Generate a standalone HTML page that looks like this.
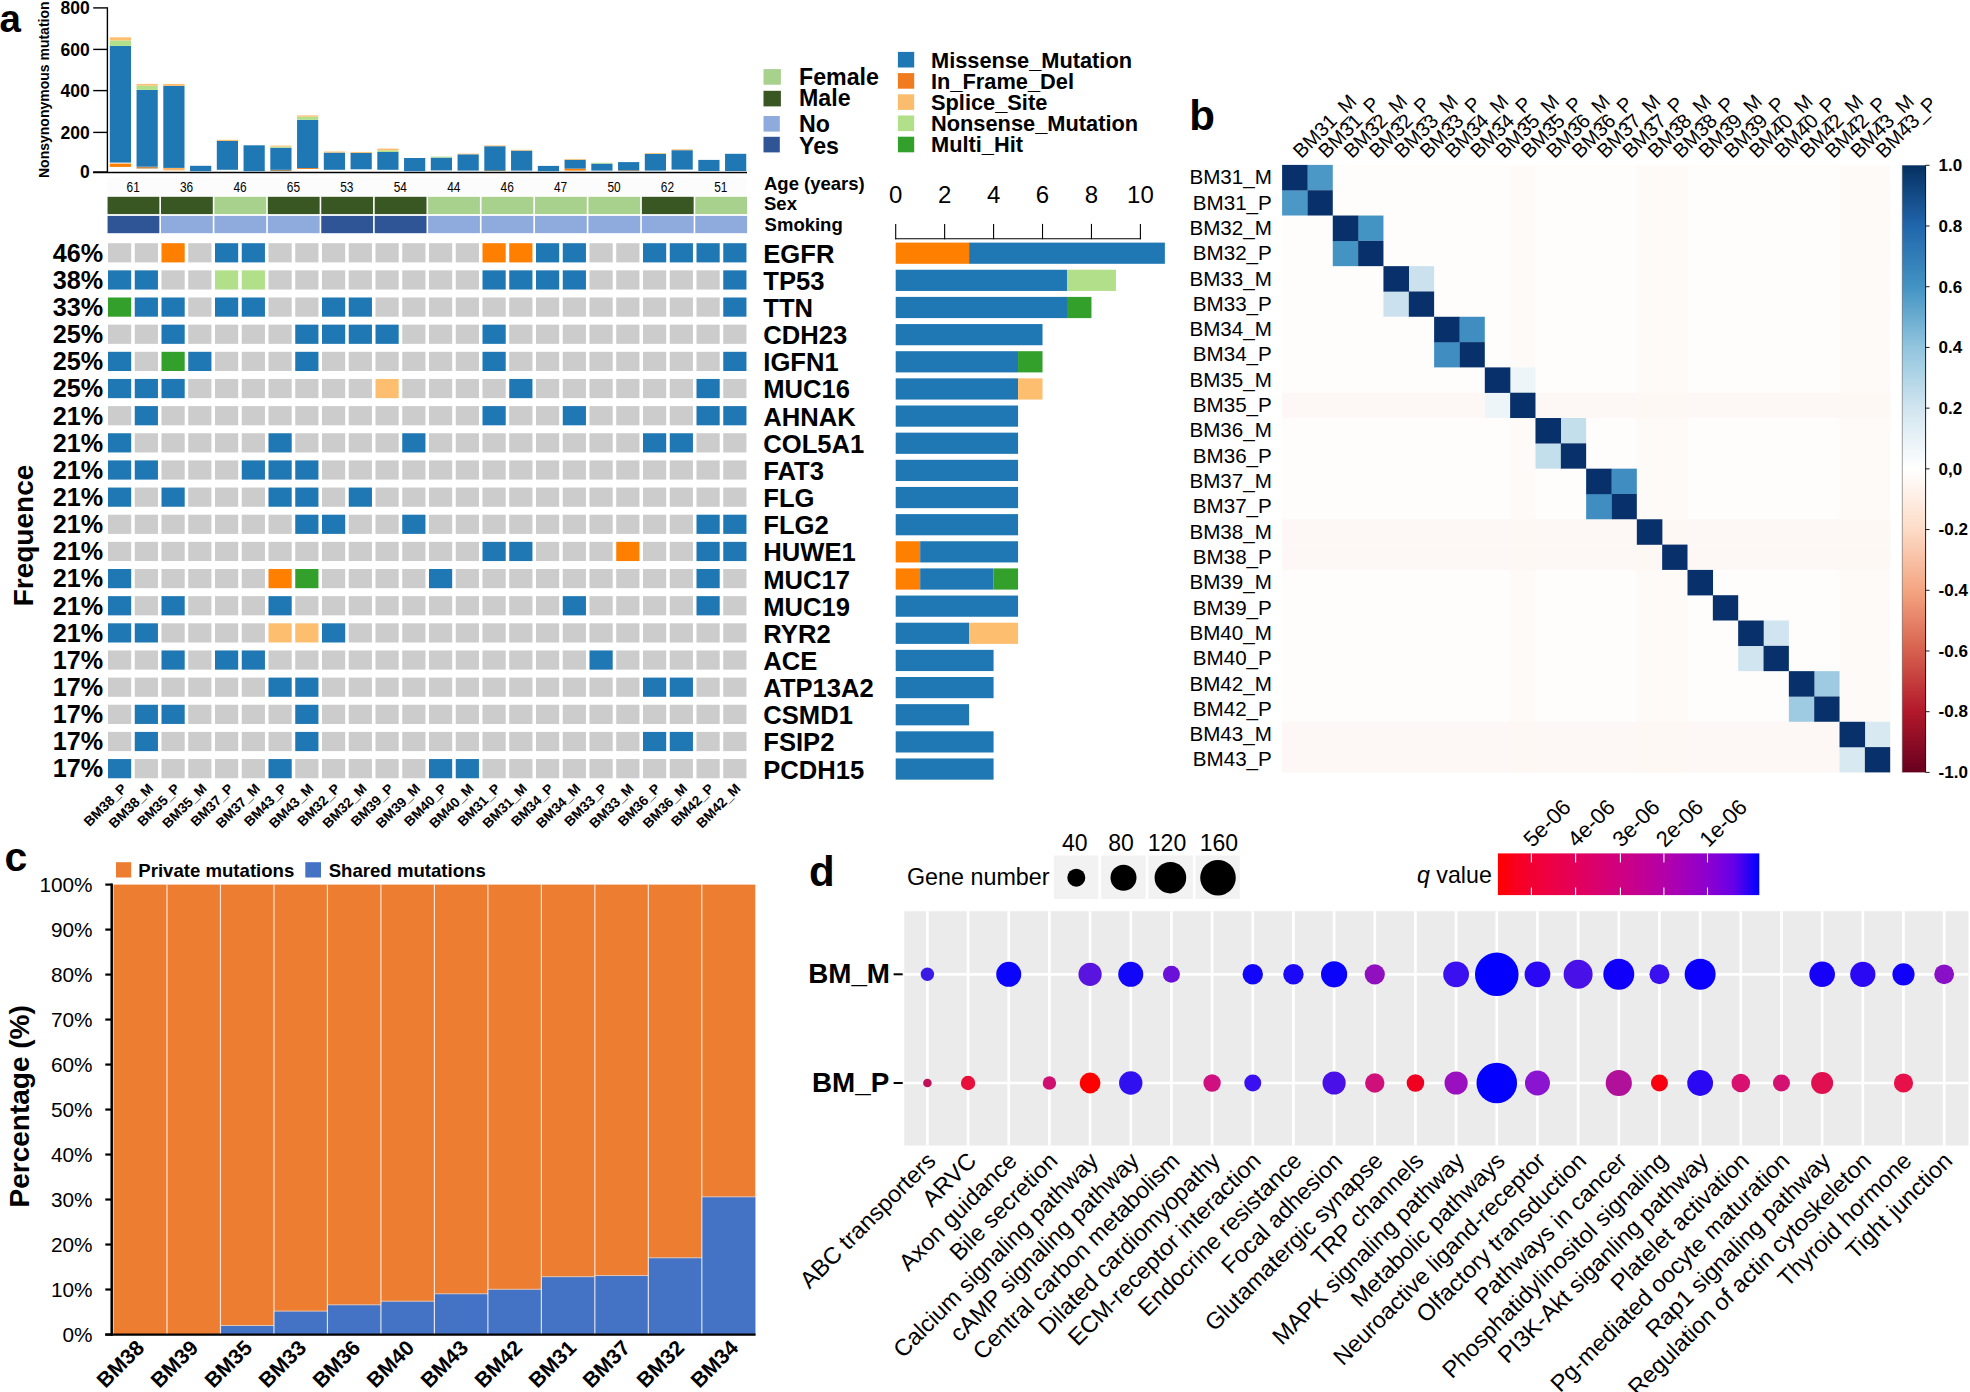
<!DOCTYPE html>
<html lang="en"><head><meta charset="utf-8"><title>Figure</title>
<style>html,body{margin:0;padding:0;background:#fff}svg{display:block}text{font-family:"Liberation Sans",Arial,Helvetica,sans-serif}</style></head><body>
<svg width="1970" height="1392" viewBox="0 0 1970 1392">
<rect width="1970" height="1392" fill="#fff"/>
<g id="panel-a">
<text x="-0.60" y="32.00" font-size="38.5" font-weight="bold" text-anchor="start" fill="#000" >a</text>
<line x1="107.40" y1="7.30" x2="107.40" y2="172.70" stroke="#000" stroke-width="1.4" />
<line x1="93.00" y1="172.50" x2="747.00" y2="172.50" stroke="#000" stroke-width="1.5" />
<line x1="93.20" y1="7.90" x2="107.40" y2="7.90" stroke="#000" stroke-width="1.4" />
<text x="89.70" y="14.00" font-size="17.5" font-weight="bold" text-anchor="end" fill="#000" >800</text>
<line x1="93.20" y1="49.40" x2="107.40" y2="49.40" stroke="#000" stroke-width="1.4" />
<text x="89.70" y="55.50" font-size="17.5" font-weight="bold" text-anchor="end" fill="#000" >600</text>
<line x1="93.20" y1="90.60" x2="107.40" y2="90.60" stroke="#000" stroke-width="1.4" />
<text x="89.70" y="96.70" font-size="17.5" font-weight="bold" text-anchor="end" fill="#000" >400</text>
<line x1="93.20" y1="132.40" x2="107.40" y2="132.40" stroke="#000" stroke-width="1.4" />
<text x="89.70" y="138.50" font-size="17.5" font-weight="bold" text-anchor="end" fill="#000" >200</text>
<line x1="93.20" y1="172.00" x2="107.40" y2="172.00" stroke="#000" stroke-width="1.4" />
<text x="89.70" y="178.10" font-size="17.5" font-weight="bold" text-anchor="end" fill="#000" >0</text>
<text x="49.30" y="178.00" font-size="14" font-weight="bold" text-anchor="start" fill="#000" transform="rotate(-90 49.30 178.00)" >Nonsynonymous mutation</text>
<rect x="109.80" y="163.60" width="21.20" height="3.30" fill="#ff7f00" />
<rect x="109.80" y="45.90" width="21.20" height="116.70" fill="#1f78b4" />
<rect x="109.80" y="40.40" width="21.20" height="5.50" fill="#b2df8a" />
<rect x="109.80" y="37.30" width="21.20" height="3.10" fill="#fdbf6f" />
<rect x="136.55" y="166.70" width="21.20" height="1.90" fill="#c98a4a" />
<rect x="136.55" y="89.90" width="21.20" height="76.80" fill="#1f78b4" />
<rect x="136.55" y="85.60" width="21.20" height="4.30" fill="#b2df8a" />
<rect x="136.55" y="83.90" width="21.20" height="1.70" fill="#fdbf6f" />
<rect x="163.30" y="168.40" width="21.20" height="1.20" fill="#ff7f00" />
<rect x="163.30" y="169.60" width="21.20" height="0.80" fill="#fdbf6f" />
<rect x="163.30" y="85.90" width="21.20" height="82.00" fill="#1f78b4" />
<rect x="163.30" y="83.90" width="21.20" height="2.00" fill="#fdbf6f" />
<rect x="190.05" y="165.80" width="21.20" height="5.40" fill="#1f78b4" />
<rect x="216.80" y="141.00" width="21.20" height="28.80" fill="#1f78b4" />
<rect x="216.80" y="139.80" width="21.20" height="1.20" fill="#fdbf6f" />
<rect x="243.55" y="145.30" width="21.20" height="25.90" fill="#1f78b4" />
<rect x="270.30" y="169.80" width="21.20" height="1.20" fill="#a98a5a" />
<rect x="270.30" y="147.70" width="21.20" height="22.10" fill="#1f78b4" />
<rect x="270.30" y="146.60" width="21.20" height="1.10" fill="#b2df8a" />
<rect x="270.30" y="145.60" width="21.20" height="1.00" fill="#fdbf6f" />
<rect x="297.05" y="168.10" width="21.20" height="0.90" fill="#ff7f00" />
<rect x="297.05" y="119.80" width="21.20" height="48.30" fill="#1f78b4" />
<rect x="297.05" y="116.70" width="21.20" height="3.10" fill="#b2df8a" />
<rect x="297.05" y="115.40" width="21.20" height="1.30" fill="#fdbf6f" />
<rect x="323.80" y="152.60" width="21.20" height="17.20" fill="#1f78b4" />
<rect x="323.80" y="151.50" width="21.20" height="1.10" fill="#fdbf6f" />
<rect x="350.55" y="152.90" width="21.20" height="16.40" fill="#1f78b4" />
<rect x="350.55" y="151.90" width="21.20" height="1.00" fill="#fdbf6f" />
<rect x="377.30" y="152.00" width="21.20" height="17.80" fill="#1f78b4" />
<rect x="377.30" y="150.30" width="21.20" height="1.70" fill="#b2df8a" />
<rect x="377.30" y="148.60" width="21.20" height="1.70" fill="#fdbf6f" />
<rect x="404.05" y="158.00" width="21.20" height="13.20" fill="#1f78b4" />
<rect x="430.80" y="157.60" width="21.20" height="12.80" fill="#1f78b4" />
<rect x="430.80" y="156.60" width="21.20" height="1.00" fill="#b2df8a" />
<rect x="457.55" y="154.30" width="21.20" height="16.30" fill="#1f78b4" />
<rect x="457.55" y="153.60" width="21.20" height="0.70" fill="#fdbf6f" />
<rect x="484.30" y="170.00" width="21.20" height="1.00" fill="#8a8a6a" />
<rect x="484.30" y="146.20" width="21.20" height="24.00" fill="#1f78b4" />
<rect x="484.30" y="145.40" width="21.20" height="0.80" fill="#fdbf6f" />
<rect x="511.05" y="150.60" width="21.20" height="20.00" fill="#1f78b4" />
<rect x="511.05" y="149.80" width="21.20" height="0.80" fill="#fdbf6f" />
<rect x="537.80" y="165.90" width="21.20" height="5.30" fill="#1f78b4" />
<rect x="564.55" y="168.60" width="21.20" height="2.00" fill="#ff7f00" />
<rect x="564.55" y="159.80" width="21.20" height="8.80" fill="#1f78b4" />
<rect x="564.55" y="159.00" width="21.20" height="0.80" fill="#fdbf6f" />
<rect x="591.30" y="163.60" width="21.20" height="7.00" fill="#1f78b4" />
<rect x="591.30" y="162.80" width="21.20" height="0.80" fill="#b2df8a" />
<rect x="618.05" y="170.00" width="21.20" height="0.80" fill="#a98a5a" />
<rect x="618.05" y="162.10" width="21.20" height="8.10" fill="#1f78b4" />
<rect x="644.80" y="153.80" width="21.20" height="16.80" fill="#1f78b4" />
<rect x="644.80" y="153.00" width="21.20" height="0.80" fill="#fdbf6f" />
<rect x="671.55" y="150.20" width="21.20" height="19.40" fill="#1f78b4" />
<rect x="671.55" y="149.30" width="21.20" height="0.90" fill="#fdbf6f" />
<rect x="698.30" y="159.90" width="21.20" height="11.10" fill="#1f78b4" />
<rect x="725.05" y="153.80" width="21.20" height="17.20" fill="#1f78b4" />
<rect x="107.20" y="177.40" width="639.50" height="18.20" fill="#fcfcfc" />
<text x="133.15" y="192.40" font-size="15" text-anchor="middle" fill="#000" textLength="13.2" lengthAdjust="spacingAndGlyphs">61</text>
<rect x="107.55" y="196.80" width="51.80" height="17.30" fill="#385723" />
<rect x="107.55" y="215.90" width="51.80" height="17.30" fill="#2f5597" />
<text x="186.58" y="192.40" font-size="15" text-anchor="middle" fill="#000" textLength="13.2" lengthAdjust="spacingAndGlyphs">36</text>
<rect x="160.98" y="196.80" width="51.80" height="17.30" fill="#385723" />
<rect x="160.98" y="215.90" width="51.80" height="17.30" fill="#8faadc" />
<text x="240.01" y="192.40" font-size="15" text-anchor="middle" fill="#000" textLength="13.2" lengthAdjust="spacingAndGlyphs">46</text>
<rect x="214.41" y="196.80" width="51.80" height="17.30" fill="#a9d18e" />
<rect x="214.41" y="215.90" width="51.80" height="17.30" fill="#8faadc" />
<text x="293.44" y="192.40" font-size="15" text-anchor="middle" fill="#000" textLength="13.2" lengthAdjust="spacingAndGlyphs">65</text>
<rect x="267.84" y="196.80" width="51.80" height="17.30" fill="#385723" />
<rect x="267.84" y="215.90" width="51.80" height="17.30" fill="#8faadc" />
<text x="346.87" y="192.40" font-size="15" text-anchor="middle" fill="#000" textLength="13.2" lengthAdjust="spacingAndGlyphs">53</text>
<rect x="321.27" y="196.80" width="51.80" height="17.30" fill="#385723" />
<rect x="321.27" y="215.90" width="51.80" height="17.30" fill="#2f5597" />
<text x="400.30" y="192.40" font-size="15" text-anchor="middle" fill="#000" textLength="13.2" lengthAdjust="spacingAndGlyphs">54</text>
<rect x="374.70" y="196.80" width="51.80" height="17.30" fill="#385723" />
<rect x="374.70" y="215.90" width="51.80" height="17.30" fill="#2f5597" />
<text x="453.73" y="192.40" font-size="15" text-anchor="middle" fill="#000" textLength="13.2" lengthAdjust="spacingAndGlyphs">44</text>
<rect x="428.13" y="196.80" width="51.80" height="17.30" fill="#a9d18e" />
<rect x="428.13" y="215.90" width="51.80" height="17.30" fill="#8faadc" />
<text x="507.16" y="192.40" font-size="15" text-anchor="middle" fill="#000" textLength="13.2" lengthAdjust="spacingAndGlyphs">46</text>
<rect x="481.56" y="196.80" width="51.80" height="17.30" fill="#a9d18e" />
<rect x="481.56" y="215.90" width="51.80" height="17.30" fill="#8faadc" />
<text x="560.59" y="192.40" font-size="15" text-anchor="middle" fill="#000" textLength="13.2" lengthAdjust="spacingAndGlyphs">47</text>
<rect x="534.99" y="196.80" width="51.80" height="17.30" fill="#a9d18e" />
<rect x="534.99" y="215.90" width="51.80" height="17.30" fill="#8faadc" />
<text x="614.02" y="192.40" font-size="15" text-anchor="middle" fill="#000" textLength="13.2" lengthAdjust="spacingAndGlyphs">50</text>
<rect x="588.42" y="196.80" width="51.80" height="17.30" fill="#a9d18e" />
<rect x="588.42" y="215.90" width="51.80" height="17.30" fill="#8faadc" />
<text x="667.45" y="192.40" font-size="15" text-anchor="middle" fill="#000" textLength="13.2" lengthAdjust="spacingAndGlyphs">62</text>
<rect x="641.85" y="196.80" width="51.80" height="17.30" fill="#385723" />
<rect x="641.85" y="215.90" width="51.80" height="17.30" fill="#8faadc" />
<text x="720.88" y="192.40" font-size="15" text-anchor="middle" fill="#000" textLength="13.2" lengthAdjust="spacingAndGlyphs">51</text>
<rect x="695.28" y="196.80" width="51.80" height="17.30" fill="#a9d18e" />
<rect x="695.28" y="215.90" width="51.80" height="17.30" fill="#8faadc" />
<rect x="108.00" y="243.20" width="23.20" height="19.20" fill="#cccccc" />
<rect x="134.75" y="243.20" width="23.20" height="19.20" fill="#cccccc" />
<rect x="161.50" y="243.20" width="23.20" height="19.20" fill="#ff7f00" />
<rect x="188.25" y="243.20" width="23.20" height="19.20" fill="#cccccc" />
<rect x="215.00" y="243.20" width="23.20" height="19.20" fill="#1f78b4" />
<rect x="241.75" y="243.20" width="23.20" height="19.20" fill="#1f78b4" />
<rect x="268.50" y="243.20" width="23.20" height="19.20" fill="#cccccc" />
<rect x="295.25" y="243.20" width="23.20" height="19.20" fill="#cccccc" />
<rect x="322.00" y="243.20" width="23.20" height="19.20" fill="#cccccc" />
<rect x="348.75" y="243.20" width="23.20" height="19.20" fill="#cccccc" />
<rect x="375.50" y="243.20" width="23.20" height="19.20" fill="#cccccc" />
<rect x="402.25" y="243.20" width="23.20" height="19.20" fill="#cccccc" />
<rect x="429.00" y="243.20" width="23.20" height="19.20" fill="#cccccc" />
<rect x="455.75" y="243.20" width="23.20" height="19.20" fill="#cccccc" />
<rect x="482.50" y="243.20" width="23.20" height="19.20" fill="#ff7f00" />
<rect x="509.25" y="243.20" width="23.20" height="19.20" fill="#ff7f00" />
<rect x="536.00" y="243.20" width="23.20" height="19.20" fill="#1f78b4" />
<rect x="562.75" y="243.20" width="23.20" height="19.20" fill="#1f78b4" />
<rect x="589.50" y="243.20" width="23.20" height="19.20" fill="#cccccc" />
<rect x="616.25" y="243.20" width="23.20" height="19.20" fill="#cccccc" />
<rect x="643.00" y="243.20" width="23.20" height="19.20" fill="#1f78b4" />
<rect x="669.75" y="243.20" width="23.20" height="19.20" fill="#1f78b4" />
<rect x="696.50" y="243.20" width="23.20" height="19.20" fill="#1f78b4" />
<rect x="723.25" y="243.20" width="23.20" height="19.20" fill="#1f78b4" />
<text x="103.20" y="261.60" font-size="25.2" font-weight="bold" text-anchor="end" fill="#000" >46%</text>
<text x="763.30" y="262.70" font-size="25.6" font-weight="bold" text-anchor="start" fill="#000" >EGFR</text>
<rect x="895.70" y="242.60" width="73.41" height="21.20" fill="#ff7f00" />
<rect x="969.11" y="242.60" width="195.76" height="21.20" fill="#1f78b4" />
<rect x="108.00" y="270.35" width="23.20" height="19.20" fill="#1f78b4" />
<rect x="134.75" y="270.35" width="23.20" height="19.20" fill="#1f78b4" />
<rect x="161.50" y="270.35" width="23.20" height="19.20" fill="#cccccc" />
<rect x="188.25" y="270.35" width="23.20" height="19.20" fill="#cccccc" />
<rect x="215.00" y="270.35" width="23.20" height="19.20" fill="#b2df8a" />
<rect x="241.75" y="270.35" width="23.20" height="19.20" fill="#b2df8a" />
<rect x="268.50" y="270.35" width="23.20" height="19.20" fill="#cccccc" />
<rect x="295.25" y="270.35" width="23.20" height="19.20" fill="#cccccc" />
<rect x="322.00" y="270.35" width="23.20" height="19.20" fill="#cccccc" />
<rect x="348.75" y="270.35" width="23.20" height="19.20" fill="#cccccc" />
<rect x="375.50" y="270.35" width="23.20" height="19.20" fill="#cccccc" />
<rect x="402.25" y="270.35" width="23.20" height="19.20" fill="#cccccc" />
<rect x="429.00" y="270.35" width="23.20" height="19.20" fill="#cccccc" />
<rect x="455.75" y="270.35" width="23.20" height="19.20" fill="#cccccc" />
<rect x="482.50" y="270.35" width="23.20" height="19.20" fill="#1f78b4" />
<rect x="509.25" y="270.35" width="23.20" height="19.20" fill="#1f78b4" />
<rect x="536.00" y="270.35" width="23.20" height="19.20" fill="#1f78b4" />
<rect x="562.75" y="270.35" width="23.20" height="19.20" fill="#1f78b4" />
<rect x="589.50" y="270.35" width="23.20" height="19.20" fill="#cccccc" />
<rect x="616.25" y="270.35" width="23.20" height="19.20" fill="#cccccc" />
<rect x="643.00" y="270.35" width="23.20" height="19.20" fill="#cccccc" />
<rect x="669.75" y="270.35" width="23.20" height="19.20" fill="#cccccc" />
<rect x="696.50" y="270.35" width="23.20" height="19.20" fill="#cccccc" />
<rect x="723.25" y="270.35" width="23.20" height="19.20" fill="#1f78b4" />
<text x="103.20" y="288.75" font-size="25.2" font-weight="bold" text-anchor="end" fill="#000" >38%</text>
<text x="763.30" y="289.85" font-size="25.6" font-weight="bold" text-anchor="start" fill="#000" >TP53</text>
<rect x="895.70" y="269.75" width="171.29" height="21.20" fill="#1f78b4" />
<rect x="1066.99" y="269.75" width="48.94" height="21.20" fill="#b2df8a" />
<rect x="108.00" y="297.50" width="23.20" height="19.20" fill="#33a02c" />
<rect x="134.75" y="297.50" width="23.20" height="19.20" fill="#1f78b4" />
<rect x="161.50" y="297.50" width="23.20" height="19.20" fill="#1f78b4" />
<rect x="188.25" y="297.50" width="23.20" height="19.20" fill="#cccccc" />
<rect x="215.00" y="297.50" width="23.20" height="19.20" fill="#1f78b4" />
<rect x="241.75" y="297.50" width="23.20" height="19.20" fill="#1f78b4" />
<rect x="268.50" y="297.50" width="23.20" height="19.20" fill="#cccccc" />
<rect x="295.25" y="297.50" width="23.20" height="19.20" fill="#cccccc" />
<rect x="322.00" y="297.50" width="23.20" height="19.20" fill="#1f78b4" />
<rect x="348.75" y="297.50" width="23.20" height="19.20" fill="#1f78b4" />
<rect x="375.50" y="297.50" width="23.20" height="19.20" fill="#cccccc" />
<rect x="402.25" y="297.50" width="23.20" height="19.20" fill="#cccccc" />
<rect x="429.00" y="297.50" width="23.20" height="19.20" fill="#cccccc" />
<rect x="455.75" y="297.50" width="23.20" height="19.20" fill="#cccccc" />
<rect x="482.50" y="297.50" width="23.20" height="19.20" fill="#cccccc" />
<rect x="509.25" y="297.50" width="23.20" height="19.20" fill="#cccccc" />
<rect x="536.00" y="297.50" width="23.20" height="19.20" fill="#cccccc" />
<rect x="562.75" y="297.50" width="23.20" height="19.20" fill="#cccccc" />
<rect x="589.50" y="297.50" width="23.20" height="19.20" fill="#cccccc" />
<rect x="616.25" y="297.50" width="23.20" height="19.20" fill="#cccccc" />
<rect x="643.00" y="297.50" width="23.20" height="19.20" fill="#cccccc" />
<rect x="669.75" y="297.50" width="23.20" height="19.20" fill="#cccccc" />
<rect x="696.50" y="297.50" width="23.20" height="19.20" fill="#cccccc" />
<rect x="723.25" y="297.50" width="23.20" height="19.20" fill="#1f78b4" />
<text x="103.20" y="315.90" font-size="25.2" font-weight="bold" text-anchor="end" fill="#000" >33%</text>
<text x="763.30" y="317.00" font-size="25.6" font-weight="bold" text-anchor="start" fill="#000" >TTN</text>
<rect x="895.70" y="296.90" width="171.29" height="21.20" fill="#1f78b4" />
<rect x="1066.99" y="296.90" width="24.47" height="21.20" fill="#33a02c" />
<rect x="108.00" y="324.65" width="23.20" height="19.20" fill="#cccccc" />
<rect x="134.75" y="324.65" width="23.20" height="19.20" fill="#cccccc" />
<rect x="161.50" y="324.65" width="23.20" height="19.20" fill="#1f78b4" />
<rect x="188.25" y="324.65" width="23.20" height="19.20" fill="#cccccc" />
<rect x="215.00" y="324.65" width="23.20" height="19.20" fill="#cccccc" />
<rect x="241.75" y="324.65" width="23.20" height="19.20" fill="#cccccc" />
<rect x="268.50" y="324.65" width="23.20" height="19.20" fill="#cccccc" />
<rect x="295.25" y="324.65" width="23.20" height="19.20" fill="#1f78b4" />
<rect x="322.00" y="324.65" width="23.20" height="19.20" fill="#1f78b4" />
<rect x="348.75" y="324.65" width="23.20" height="19.20" fill="#1f78b4" />
<rect x="375.50" y="324.65" width="23.20" height="19.20" fill="#1f78b4" />
<rect x="402.25" y="324.65" width="23.20" height="19.20" fill="#cccccc" />
<rect x="429.00" y="324.65" width="23.20" height="19.20" fill="#cccccc" />
<rect x="455.75" y="324.65" width="23.20" height="19.20" fill="#cccccc" />
<rect x="482.50" y="324.65" width="23.20" height="19.20" fill="#1f78b4" />
<rect x="509.25" y="324.65" width="23.20" height="19.20" fill="#cccccc" />
<rect x="536.00" y="324.65" width="23.20" height="19.20" fill="#cccccc" />
<rect x="562.75" y="324.65" width="23.20" height="19.20" fill="#cccccc" />
<rect x="589.50" y="324.65" width="23.20" height="19.20" fill="#cccccc" />
<rect x="616.25" y="324.65" width="23.20" height="19.20" fill="#cccccc" />
<rect x="643.00" y="324.65" width="23.20" height="19.20" fill="#cccccc" />
<rect x="669.75" y="324.65" width="23.20" height="19.20" fill="#cccccc" />
<rect x="696.50" y="324.65" width="23.20" height="19.20" fill="#cccccc" />
<rect x="723.25" y="324.65" width="23.20" height="19.20" fill="#cccccc" />
<text x="103.20" y="343.05" font-size="25.2" font-weight="bold" text-anchor="end" fill="#000" >25%</text>
<text x="763.30" y="344.15" font-size="25.6" font-weight="bold" text-anchor="start" fill="#000" >CDH23</text>
<rect x="895.70" y="324.05" width="146.82" height="21.20" fill="#1f78b4" />
<rect x="108.00" y="351.80" width="23.20" height="19.20" fill="#1f78b4" />
<rect x="134.75" y="351.80" width="23.20" height="19.20" fill="#cccccc" />
<rect x="161.50" y="351.80" width="23.20" height="19.20" fill="#33a02c" />
<rect x="188.25" y="351.80" width="23.20" height="19.20" fill="#1f78b4" />
<rect x="215.00" y="351.80" width="23.20" height="19.20" fill="#cccccc" />
<rect x="241.75" y="351.80" width="23.20" height="19.20" fill="#cccccc" />
<rect x="268.50" y="351.80" width="23.20" height="19.20" fill="#cccccc" />
<rect x="295.25" y="351.80" width="23.20" height="19.20" fill="#1f78b4" />
<rect x="322.00" y="351.80" width="23.20" height="19.20" fill="#cccccc" />
<rect x="348.75" y="351.80" width="23.20" height="19.20" fill="#cccccc" />
<rect x="375.50" y="351.80" width="23.20" height="19.20" fill="#cccccc" />
<rect x="402.25" y="351.80" width="23.20" height="19.20" fill="#cccccc" />
<rect x="429.00" y="351.80" width="23.20" height="19.20" fill="#cccccc" />
<rect x="455.75" y="351.80" width="23.20" height="19.20" fill="#cccccc" />
<rect x="482.50" y="351.80" width="23.20" height="19.20" fill="#1f78b4" />
<rect x="509.25" y="351.80" width="23.20" height="19.20" fill="#cccccc" />
<rect x="536.00" y="351.80" width="23.20" height="19.20" fill="#cccccc" />
<rect x="562.75" y="351.80" width="23.20" height="19.20" fill="#cccccc" />
<rect x="589.50" y="351.80" width="23.20" height="19.20" fill="#cccccc" />
<rect x="616.25" y="351.80" width="23.20" height="19.20" fill="#cccccc" />
<rect x="643.00" y="351.80" width="23.20" height="19.20" fill="#cccccc" />
<rect x="669.75" y="351.80" width="23.20" height="19.20" fill="#cccccc" />
<rect x="696.50" y="351.80" width="23.20" height="19.20" fill="#cccccc" />
<rect x="723.25" y="351.80" width="23.20" height="19.20" fill="#1f78b4" />
<text x="103.20" y="370.20" font-size="25.2" font-weight="bold" text-anchor="end" fill="#000" >25%</text>
<text x="763.30" y="371.30" font-size="25.6" font-weight="bold" text-anchor="start" fill="#000" >IGFN1</text>
<rect x="895.70" y="351.20" width="122.35" height="21.20" fill="#1f78b4" />
<rect x="1018.05" y="351.20" width="24.47" height="21.20" fill="#33a02c" />
<rect x="108.00" y="378.95" width="23.20" height="19.20" fill="#1f78b4" />
<rect x="134.75" y="378.95" width="23.20" height="19.20" fill="#1f78b4" />
<rect x="161.50" y="378.95" width="23.20" height="19.20" fill="#1f78b4" />
<rect x="188.25" y="378.95" width="23.20" height="19.20" fill="#cccccc" />
<rect x="215.00" y="378.95" width="23.20" height="19.20" fill="#cccccc" />
<rect x="241.75" y="378.95" width="23.20" height="19.20" fill="#cccccc" />
<rect x="268.50" y="378.95" width="23.20" height="19.20" fill="#cccccc" />
<rect x="295.25" y="378.95" width="23.20" height="19.20" fill="#cccccc" />
<rect x="322.00" y="378.95" width="23.20" height="19.20" fill="#cccccc" />
<rect x="348.75" y="378.95" width="23.20" height="19.20" fill="#cccccc" />
<rect x="375.50" y="378.95" width="23.20" height="19.20" fill="#fdbf6f" />
<rect x="402.25" y="378.95" width="23.20" height="19.20" fill="#cccccc" />
<rect x="429.00" y="378.95" width="23.20" height="19.20" fill="#cccccc" />
<rect x="455.75" y="378.95" width="23.20" height="19.20" fill="#cccccc" />
<rect x="482.50" y="378.95" width="23.20" height="19.20" fill="#cccccc" />
<rect x="509.25" y="378.95" width="23.20" height="19.20" fill="#1f78b4" />
<rect x="536.00" y="378.95" width="23.20" height="19.20" fill="#cccccc" />
<rect x="562.75" y="378.95" width="23.20" height="19.20" fill="#cccccc" />
<rect x="589.50" y="378.95" width="23.20" height="19.20" fill="#cccccc" />
<rect x="616.25" y="378.95" width="23.20" height="19.20" fill="#cccccc" />
<rect x="643.00" y="378.95" width="23.20" height="19.20" fill="#cccccc" />
<rect x="669.75" y="378.95" width="23.20" height="19.20" fill="#cccccc" />
<rect x="696.50" y="378.95" width="23.20" height="19.20" fill="#1f78b4" />
<rect x="723.25" y="378.95" width="23.20" height="19.20" fill="#cccccc" />
<text x="103.20" y="397.35" font-size="25.2" font-weight="bold" text-anchor="end" fill="#000" >25%</text>
<text x="763.30" y="398.45" font-size="25.6" font-weight="bold" text-anchor="start" fill="#000" >MUC16</text>
<rect x="895.70" y="378.35" width="122.35" height="21.20" fill="#1f78b4" />
<rect x="1018.05" y="378.35" width="24.47" height="21.20" fill="#fdbf6f" />
<rect x="108.00" y="406.10" width="23.20" height="19.20" fill="#cccccc" />
<rect x="134.75" y="406.10" width="23.20" height="19.20" fill="#1f78b4" />
<rect x="161.50" y="406.10" width="23.20" height="19.20" fill="#cccccc" />
<rect x="188.25" y="406.10" width="23.20" height="19.20" fill="#cccccc" />
<rect x="215.00" y="406.10" width="23.20" height="19.20" fill="#cccccc" />
<rect x="241.75" y="406.10" width="23.20" height="19.20" fill="#cccccc" />
<rect x="268.50" y="406.10" width="23.20" height="19.20" fill="#cccccc" />
<rect x="295.25" y="406.10" width="23.20" height="19.20" fill="#cccccc" />
<rect x="322.00" y="406.10" width="23.20" height="19.20" fill="#cccccc" />
<rect x="348.75" y="406.10" width="23.20" height="19.20" fill="#cccccc" />
<rect x="375.50" y="406.10" width="23.20" height="19.20" fill="#cccccc" />
<rect x="402.25" y="406.10" width="23.20" height="19.20" fill="#cccccc" />
<rect x="429.00" y="406.10" width="23.20" height="19.20" fill="#cccccc" />
<rect x="455.75" y="406.10" width="23.20" height="19.20" fill="#cccccc" />
<rect x="482.50" y="406.10" width="23.20" height="19.20" fill="#1f78b4" />
<rect x="509.25" y="406.10" width="23.20" height="19.20" fill="#cccccc" />
<rect x="536.00" y="406.10" width="23.20" height="19.20" fill="#cccccc" />
<rect x="562.75" y="406.10" width="23.20" height="19.20" fill="#1f78b4" />
<rect x="589.50" y="406.10" width="23.20" height="19.20" fill="#cccccc" />
<rect x="616.25" y="406.10" width="23.20" height="19.20" fill="#cccccc" />
<rect x="643.00" y="406.10" width="23.20" height="19.20" fill="#cccccc" />
<rect x="669.75" y="406.10" width="23.20" height="19.20" fill="#cccccc" />
<rect x="696.50" y="406.10" width="23.20" height="19.20" fill="#1f78b4" />
<rect x="723.25" y="406.10" width="23.20" height="19.20" fill="#1f78b4" />
<text x="103.20" y="424.50" font-size="25.2" font-weight="bold" text-anchor="end" fill="#000" >21%</text>
<text x="763.30" y="425.60" font-size="25.6" font-weight="bold" text-anchor="start" fill="#000" >AHNAK</text>
<rect x="895.70" y="405.50" width="122.35" height="21.20" fill="#1f78b4" />
<rect x="108.00" y="433.25" width="23.20" height="19.20" fill="#1f78b4" />
<rect x="134.75" y="433.25" width="23.20" height="19.20" fill="#cccccc" />
<rect x="161.50" y="433.25" width="23.20" height="19.20" fill="#cccccc" />
<rect x="188.25" y="433.25" width="23.20" height="19.20" fill="#cccccc" />
<rect x="215.00" y="433.25" width="23.20" height="19.20" fill="#cccccc" />
<rect x="241.75" y="433.25" width="23.20" height="19.20" fill="#cccccc" />
<rect x="268.50" y="433.25" width="23.20" height="19.20" fill="#1f78b4" />
<rect x="295.25" y="433.25" width="23.20" height="19.20" fill="#cccccc" />
<rect x="322.00" y="433.25" width="23.20" height="19.20" fill="#cccccc" />
<rect x="348.75" y="433.25" width="23.20" height="19.20" fill="#cccccc" />
<rect x="375.50" y="433.25" width="23.20" height="19.20" fill="#cccccc" />
<rect x="402.25" y="433.25" width="23.20" height="19.20" fill="#1f78b4" />
<rect x="429.00" y="433.25" width="23.20" height="19.20" fill="#cccccc" />
<rect x="455.75" y="433.25" width="23.20" height="19.20" fill="#cccccc" />
<rect x="482.50" y="433.25" width="23.20" height="19.20" fill="#cccccc" />
<rect x="509.25" y="433.25" width="23.20" height="19.20" fill="#cccccc" />
<rect x="536.00" y="433.25" width="23.20" height="19.20" fill="#cccccc" />
<rect x="562.75" y="433.25" width="23.20" height="19.20" fill="#cccccc" />
<rect x="589.50" y="433.25" width="23.20" height="19.20" fill="#cccccc" />
<rect x="616.25" y="433.25" width="23.20" height="19.20" fill="#cccccc" />
<rect x="643.00" y="433.25" width="23.20" height="19.20" fill="#1f78b4" />
<rect x="669.75" y="433.25" width="23.20" height="19.20" fill="#1f78b4" />
<rect x="696.50" y="433.25" width="23.20" height="19.20" fill="#cccccc" />
<rect x="723.25" y="433.25" width="23.20" height="19.20" fill="#cccccc" />
<text x="103.20" y="451.65" font-size="25.2" font-weight="bold" text-anchor="end" fill="#000" >21%</text>
<text x="763.30" y="452.75" font-size="25.6" font-weight="bold" text-anchor="start" fill="#000" >COL5A1</text>
<rect x="895.70" y="432.65" width="122.35" height="21.20" fill="#1f78b4" />
<rect x="108.00" y="460.40" width="23.20" height="19.20" fill="#1f78b4" />
<rect x="134.75" y="460.40" width="23.20" height="19.20" fill="#1f78b4" />
<rect x="161.50" y="460.40" width="23.20" height="19.20" fill="#cccccc" />
<rect x="188.25" y="460.40" width="23.20" height="19.20" fill="#cccccc" />
<rect x="215.00" y="460.40" width="23.20" height="19.20" fill="#cccccc" />
<rect x="241.75" y="460.40" width="23.20" height="19.20" fill="#1f78b4" />
<rect x="268.50" y="460.40" width="23.20" height="19.20" fill="#1f78b4" />
<rect x="295.25" y="460.40" width="23.20" height="19.20" fill="#1f78b4" />
<rect x="322.00" y="460.40" width="23.20" height="19.20" fill="#cccccc" />
<rect x="348.75" y="460.40" width="23.20" height="19.20" fill="#cccccc" />
<rect x="375.50" y="460.40" width="23.20" height="19.20" fill="#cccccc" />
<rect x="402.25" y="460.40" width="23.20" height="19.20" fill="#cccccc" />
<rect x="429.00" y="460.40" width="23.20" height="19.20" fill="#cccccc" />
<rect x="455.75" y="460.40" width="23.20" height="19.20" fill="#cccccc" />
<rect x="482.50" y="460.40" width="23.20" height="19.20" fill="#cccccc" />
<rect x="509.25" y="460.40" width="23.20" height="19.20" fill="#cccccc" />
<rect x="536.00" y="460.40" width="23.20" height="19.20" fill="#cccccc" />
<rect x="562.75" y="460.40" width="23.20" height="19.20" fill="#cccccc" />
<rect x="589.50" y="460.40" width="23.20" height="19.20" fill="#cccccc" />
<rect x="616.25" y="460.40" width="23.20" height="19.20" fill="#cccccc" />
<rect x="643.00" y="460.40" width="23.20" height="19.20" fill="#cccccc" />
<rect x="669.75" y="460.40" width="23.20" height="19.20" fill="#cccccc" />
<rect x="696.50" y="460.40" width="23.20" height="19.20" fill="#cccccc" />
<rect x="723.25" y="460.40" width="23.20" height="19.20" fill="#cccccc" />
<text x="103.20" y="478.80" font-size="25.2" font-weight="bold" text-anchor="end" fill="#000" >21%</text>
<text x="763.30" y="479.90" font-size="25.6" font-weight="bold" text-anchor="start" fill="#000" >FAT3</text>
<rect x="895.70" y="459.80" width="122.35" height="21.20" fill="#1f78b4" />
<rect x="108.00" y="487.55" width="23.20" height="19.20" fill="#1f78b4" />
<rect x="134.75" y="487.55" width="23.20" height="19.20" fill="#cccccc" />
<rect x="161.50" y="487.55" width="23.20" height="19.20" fill="#1f78b4" />
<rect x="188.25" y="487.55" width="23.20" height="19.20" fill="#cccccc" />
<rect x="215.00" y="487.55" width="23.20" height="19.20" fill="#cccccc" />
<rect x="241.75" y="487.55" width="23.20" height="19.20" fill="#cccccc" />
<rect x="268.50" y="487.55" width="23.20" height="19.20" fill="#1f78b4" />
<rect x="295.25" y="487.55" width="23.20" height="19.20" fill="#1f78b4" />
<rect x="322.00" y="487.55" width="23.20" height="19.20" fill="#cccccc" />
<rect x="348.75" y="487.55" width="23.20" height="19.20" fill="#1f78b4" />
<rect x="375.50" y="487.55" width="23.20" height="19.20" fill="#cccccc" />
<rect x="402.25" y="487.55" width="23.20" height="19.20" fill="#cccccc" />
<rect x="429.00" y="487.55" width="23.20" height="19.20" fill="#cccccc" />
<rect x="455.75" y="487.55" width="23.20" height="19.20" fill="#cccccc" />
<rect x="482.50" y="487.55" width="23.20" height="19.20" fill="#cccccc" />
<rect x="509.25" y="487.55" width="23.20" height="19.20" fill="#cccccc" />
<rect x="536.00" y="487.55" width="23.20" height="19.20" fill="#cccccc" />
<rect x="562.75" y="487.55" width="23.20" height="19.20" fill="#cccccc" />
<rect x="589.50" y="487.55" width="23.20" height="19.20" fill="#cccccc" />
<rect x="616.25" y="487.55" width="23.20" height="19.20" fill="#cccccc" />
<rect x="643.00" y="487.55" width="23.20" height="19.20" fill="#cccccc" />
<rect x="669.75" y="487.55" width="23.20" height="19.20" fill="#cccccc" />
<rect x="696.50" y="487.55" width="23.20" height="19.20" fill="#cccccc" />
<rect x="723.25" y="487.55" width="23.20" height="19.20" fill="#cccccc" />
<text x="103.20" y="505.95" font-size="25.2" font-weight="bold" text-anchor="end" fill="#000" >21%</text>
<text x="763.30" y="507.05" font-size="25.6" font-weight="bold" text-anchor="start" fill="#000" >FLG</text>
<rect x="895.70" y="486.95" width="122.35" height="21.20" fill="#1f78b4" />
<rect x="108.00" y="514.70" width="23.20" height="19.20" fill="#cccccc" />
<rect x="134.75" y="514.70" width="23.20" height="19.20" fill="#cccccc" />
<rect x="161.50" y="514.70" width="23.20" height="19.20" fill="#cccccc" />
<rect x="188.25" y="514.70" width="23.20" height="19.20" fill="#cccccc" />
<rect x="215.00" y="514.70" width="23.20" height="19.20" fill="#cccccc" />
<rect x="241.75" y="514.70" width="23.20" height="19.20" fill="#cccccc" />
<rect x="268.50" y="514.70" width="23.20" height="19.20" fill="#cccccc" />
<rect x="295.25" y="514.70" width="23.20" height="19.20" fill="#1f78b4" />
<rect x="322.00" y="514.70" width="23.20" height="19.20" fill="#1f78b4" />
<rect x="348.75" y="514.70" width="23.20" height="19.20" fill="#cccccc" />
<rect x="375.50" y="514.70" width="23.20" height="19.20" fill="#cccccc" />
<rect x="402.25" y="514.70" width="23.20" height="19.20" fill="#1f78b4" />
<rect x="429.00" y="514.70" width="23.20" height="19.20" fill="#cccccc" />
<rect x="455.75" y="514.70" width="23.20" height="19.20" fill="#cccccc" />
<rect x="482.50" y="514.70" width="23.20" height="19.20" fill="#cccccc" />
<rect x="509.25" y="514.70" width="23.20" height="19.20" fill="#cccccc" />
<rect x="536.00" y="514.70" width="23.20" height="19.20" fill="#cccccc" />
<rect x="562.75" y="514.70" width="23.20" height="19.20" fill="#cccccc" />
<rect x="589.50" y="514.70" width="23.20" height="19.20" fill="#cccccc" />
<rect x="616.25" y="514.70" width="23.20" height="19.20" fill="#cccccc" />
<rect x="643.00" y="514.70" width="23.20" height="19.20" fill="#cccccc" />
<rect x="669.75" y="514.70" width="23.20" height="19.20" fill="#cccccc" />
<rect x="696.50" y="514.70" width="23.20" height="19.20" fill="#1f78b4" />
<rect x="723.25" y="514.70" width="23.20" height="19.20" fill="#1f78b4" />
<text x="103.20" y="533.10" font-size="25.2" font-weight="bold" text-anchor="end" fill="#000" >21%</text>
<text x="763.30" y="534.20" font-size="25.6" font-weight="bold" text-anchor="start" fill="#000" >FLG2</text>
<rect x="895.70" y="514.10" width="122.35" height="21.20" fill="#1f78b4" />
<rect x="108.00" y="541.85" width="23.20" height="19.20" fill="#cccccc" />
<rect x="134.75" y="541.85" width="23.20" height="19.20" fill="#cccccc" />
<rect x="161.50" y="541.85" width="23.20" height="19.20" fill="#cccccc" />
<rect x="188.25" y="541.85" width="23.20" height="19.20" fill="#cccccc" />
<rect x="215.00" y="541.85" width="23.20" height="19.20" fill="#cccccc" />
<rect x="241.75" y="541.85" width="23.20" height="19.20" fill="#cccccc" />
<rect x="268.50" y="541.85" width="23.20" height="19.20" fill="#cccccc" />
<rect x="295.25" y="541.85" width="23.20" height="19.20" fill="#cccccc" />
<rect x="322.00" y="541.85" width="23.20" height="19.20" fill="#cccccc" />
<rect x="348.75" y="541.85" width="23.20" height="19.20" fill="#cccccc" />
<rect x="375.50" y="541.85" width="23.20" height="19.20" fill="#cccccc" />
<rect x="402.25" y="541.85" width="23.20" height="19.20" fill="#cccccc" />
<rect x="429.00" y="541.85" width="23.20" height="19.20" fill="#cccccc" />
<rect x="455.75" y="541.85" width="23.20" height="19.20" fill="#cccccc" />
<rect x="482.50" y="541.85" width="23.20" height="19.20" fill="#1f78b4" />
<rect x="509.25" y="541.85" width="23.20" height="19.20" fill="#1f78b4" />
<rect x="536.00" y="541.85" width="23.20" height="19.20" fill="#cccccc" />
<rect x="562.75" y="541.85" width="23.20" height="19.20" fill="#cccccc" />
<rect x="589.50" y="541.85" width="23.20" height="19.20" fill="#cccccc" />
<rect x="616.25" y="541.85" width="23.20" height="19.20" fill="#ff7f00" />
<rect x="643.00" y="541.85" width="23.20" height="19.20" fill="#cccccc" />
<rect x="669.75" y="541.85" width="23.20" height="19.20" fill="#cccccc" />
<rect x="696.50" y="541.85" width="23.20" height="19.20" fill="#1f78b4" />
<rect x="723.25" y="541.85" width="23.20" height="19.20" fill="#1f78b4" />
<text x="103.20" y="560.25" font-size="25.2" font-weight="bold" text-anchor="end" fill="#000" >21%</text>
<text x="763.30" y="561.35" font-size="25.6" font-weight="bold" text-anchor="start" fill="#000" >HUWE1</text>
<rect x="895.70" y="541.25" width="24.47" height="21.20" fill="#ff7f00" />
<rect x="920.17" y="541.25" width="97.88" height="21.20" fill="#1f78b4" />
<rect x="108.00" y="569.00" width="23.20" height="19.20" fill="#1f78b4" />
<rect x="134.75" y="569.00" width="23.20" height="19.20" fill="#cccccc" />
<rect x="161.50" y="569.00" width="23.20" height="19.20" fill="#cccccc" />
<rect x="188.25" y="569.00" width="23.20" height="19.20" fill="#cccccc" />
<rect x="215.00" y="569.00" width="23.20" height="19.20" fill="#cccccc" />
<rect x="241.75" y="569.00" width="23.20" height="19.20" fill="#cccccc" />
<rect x="268.50" y="569.00" width="23.20" height="19.20" fill="#ff7f00" />
<rect x="295.25" y="569.00" width="23.20" height="19.20" fill="#33a02c" />
<rect x="322.00" y="569.00" width="23.20" height="19.20" fill="#cccccc" />
<rect x="348.75" y="569.00" width="23.20" height="19.20" fill="#cccccc" />
<rect x="375.50" y="569.00" width="23.20" height="19.20" fill="#cccccc" />
<rect x="402.25" y="569.00" width="23.20" height="19.20" fill="#cccccc" />
<rect x="429.00" y="569.00" width="23.20" height="19.20" fill="#1f78b4" />
<rect x="455.75" y="569.00" width="23.20" height="19.20" fill="#cccccc" />
<rect x="482.50" y="569.00" width="23.20" height="19.20" fill="#cccccc" />
<rect x="509.25" y="569.00" width="23.20" height="19.20" fill="#cccccc" />
<rect x="536.00" y="569.00" width="23.20" height="19.20" fill="#cccccc" />
<rect x="562.75" y="569.00" width="23.20" height="19.20" fill="#cccccc" />
<rect x="589.50" y="569.00" width="23.20" height="19.20" fill="#cccccc" />
<rect x="616.25" y="569.00" width="23.20" height="19.20" fill="#cccccc" />
<rect x="643.00" y="569.00" width="23.20" height="19.20" fill="#cccccc" />
<rect x="669.75" y="569.00" width="23.20" height="19.20" fill="#cccccc" />
<rect x="696.50" y="569.00" width="23.20" height="19.20" fill="#1f78b4" />
<rect x="723.25" y="569.00" width="23.20" height="19.20" fill="#cccccc" />
<text x="103.20" y="587.40" font-size="25.2" font-weight="bold" text-anchor="end" fill="#000" >21%</text>
<text x="763.30" y="588.50" font-size="25.6" font-weight="bold" text-anchor="start" fill="#000" >MUC17</text>
<rect x="895.70" y="568.40" width="24.47" height="21.20" fill="#ff7f00" />
<rect x="920.17" y="568.40" width="73.41" height="21.20" fill="#1f78b4" />
<rect x="993.58" y="568.40" width="24.47" height="21.20" fill="#33a02c" />
<rect x="108.00" y="596.15" width="23.20" height="19.20" fill="#1f78b4" />
<rect x="134.75" y="596.15" width="23.20" height="19.20" fill="#cccccc" />
<rect x="161.50" y="596.15" width="23.20" height="19.20" fill="#1f78b4" />
<rect x="188.25" y="596.15" width="23.20" height="19.20" fill="#cccccc" />
<rect x="215.00" y="596.15" width="23.20" height="19.20" fill="#cccccc" />
<rect x="241.75" y="596.15" width="23.20" height="19.20" fill="#cccccc" />
<rect x="268.50" y="596.15" width="23.20" height="19.20" fill="#1f78b4" />
<rect x="295.25" y="596.15" width="23.20" height="19.20" fill="#cccccc" />
<rect x="322.00" y="596.15" width="23.20" height="19.20" fill="#cccccc" />
<rect x="348.75" y="596.15" width="23.20" height="19.20" fill="#cccccc" />
<rect x="375.50" y="596.15" width="23.20" height="19.20" fill="#cccccc" />
<rect x="402.25" y="596.15" width="23.20" height="19.20" fill="#cccccc" />
<rect x="429.00" y="596.15" width="23.20" height="19.20" fill="#cccccc" />
<rect x="455.75" y="596.15" width="23.20" height="19.20" fill="#cccccc" />
<rect x="482.50" y="596.15" width="23.20" height="19.20" fill="#cccccc" />
<rect x="509.25" y="596.15" width="23.20" height="19.20" fill="#cccccc" />
<rect x="536.00" y="596.15" width="23.20" height="19.20" fill="#cccccc" />
<rect x="562.75" y="596.15" width="23.20" height="19.20" fill="#1f78b4" />
<rect x="589.50" y="596.15" width="23.20" height="19.20" fill="#cccccc" />
<rect x="616.25" y="596.15" width="23.20" height="19.20" fill="#cccccc" />
<rect x="643.00" y="596.15" width="23.20" height="19.20" fill="#cccccc" />
<rect x="669.75" y="596.15" width="23.20" height="19.20" fill="#cccccc" />
<rect x="696.50" y="596.15" width="23.20" height="19.20" fill="#1f78b4" />
<rect x="723.25" y="596.15" width="23.20" height="19.20" fill="#cccccc" />
<text x="103.20" y="614.55" font-size="25.2" font-weight="bold" text-anchor="end" fill="#000" >21%</text>
<text x="763.30" y="615.65" font-size="25.6" font-weight="bold" text-anchor="start" fill="#000" >MUC19</text>
<rect x="895.70" y="595.55" width="122.35" height="21.20" fill="#1f78b4" />
<rect x="108.00" y="623.30" width="23.20" height="19.20" fill="#1f78b4" />
<rect x="134.75" y="623.30" width="23.20" height="19.20" fill="#1f78b4" />
<rect x="161.50" y="623.30" width="23.20" height="19.20" fill="#cccccc" />
<rect x="188.25" y="623.30" width="23.20" height="19.20" fill="#cccccc" />
<rect x="215.00" y="623.30" width="23.20" height="19.20" fill="#cccccc" />
<rect x="241.75" y="623.30" width="23.20" height="19.20" fill="#cccccc" />
<rect x="268.50" y="623.30" width="23.20" height="19.20" fill="#fdbf6f" />
<rect x="295.25" y="623.30" width="23.20" height="19.20" fill="#fdbf6f" />
<rect x="322.00" y="623.30" width="23.20" height="19.20" fill="#1f78b4" />
<rect x="348.75" y="623.30" width="23.20" height="19.20" fill="#cccccc" />
<rect x="375.50" y="623.30" width="23.20" height="19.20" fill="#cccccc" />
<rect x="402.25" y="623.30" width="23.20" height="19.20" fill="#cccccc" />
<rect x="429.00" y="623.30" width="23.20" height="19.20" fill="#cccccc" />
<rect x="455.75" y="623.30" width="23.20" height="19.20" fill="#cccccc" />
<rect x="482.50" y="623.30" width="23.20" height="19.20" fill="#cccccc" />
<rect x="509.25" y="623.30" width="23.20" height="19.20" fill="#cccccc" />
<rect x="536.00" y="623.30" width="23.20" height="19.20" fill="#cccccc" />
<rect x="562.75" y="623.30" width="23.20" height="19.20" fill="#cccccc" />
<rect x="589.50" y="623.30" width="23.20" height="19.20" fill="#cccccc" />
<rect x="616.25" y="623.30" width="23.20" height="19.20" fill="#cccccc" />
<rect x="643.00" y="623.30" width="23.20" height="19.20" fill="#cccccc" />
<rect x="669.75" y="623.30" width="23.20" height="19.20" fill="#cccccc" />
<rect x="696.50" y="623.30" width="23.20" height="19.20" fill="#cccccc" />
<rect x="723.25" y="623.30" width="23.20" height="19.20" fill="#cccccc" />
<text x="103.20" y="641.70" font-size="25.2" font-weight="bold" text-anchor="end" fill="#000" >21%</text>
<text x="763.30" y="642.80" font-size="25.6" font-weight="bold" text-anchor="start" fill="#000" >RYR2</text>
<rect x="895.70" y="622.70" width="73.41" height="21.20" fill="#1f78b4" />
<rect x="969.11" y="622.70" width="48.94" height="21.20" fill="#fdbf6f" />
<rect x="108.00" y="650.45" width="23.20" height="19.20" fill="#cccccc" />
<rect x="134.75" y="650.45" width="23.20" height="19.20" fill="#cccccc" />
<rect x="161.50" y="650.45" width="23.20" height="19.20" fill="#1f78b4" />
<rect x="188.25" y="650.45" width="23.20" height="19.20" fill="#cccccc" />
<rect x="215.00" y="650.45" width="23.20" height="19.20" fill="#1f78b4" />
<rect x="241.75" y="650.45" width="23.20" height="19.20" fill="#1f78b4" />
<rect x="268.50" y="650.45" width="23.20" height="19.20" fill="#cccccc" />
<rect x="295.25" y="650.45" width="23.20" height="19.20" fill="#cccccc" />
<rect x="322.00" y="650.45" width="23.20" height="19.20" fill="#cccccc" />
<rect x="348.75" y="650.45" width="23.20" height="19.20" fill="#cccccc" />
<rect x="375.50" y="650.45" width="23.20" height="19.20" fill="#cccccc" />
<rect x="402.25" y="650.45" width="23.20" height="19.20" fill="#cccccc" />
<rect x="429.00" y="650.45" width="23.20" height="19.20" fill="#cccccc" />
<rect x="455.75" y="650.45" width="23.20" height="19.20" fill="#cccccc" />
<rect x="482.50" y="650.45" width="23.20" height="19.20" fill="#cccccc" />
<rect x="509.25" y="650.45" width="23.20" height="19.20" fill="#cccccc" />
<rect x="536.00" y="650.45" width="23.20" height="19.20" fill="#cccccc" />
<rect x="562.75" y="650.45" width="23.20" height="19.20" fill="#cccccc" />
<rect x="589.50" y="650.45" width="23.20" height="19.20" fill="#1f78b4" />
<rect x="616.25" y="650.45" width="23.20" height="19.20" fill="#cccccc" />
<rect x="643.00" y="650.45" width="23.20" height="19.20" fill="#cccccc" />
<rect x="669.75" y="650.45" width="23.20" height="19.20" fill="#cccccc" />
<rect x="696.50" y="650.45" width="23.20" height="19.20" fill="#cccccc" />
<rect x="723.25" y="650.45" width="23.20" height="19.20" fill="#cccccc" />
<text x="103.20" y="668.85" font-size="25.2" font-weight="bold" text-anchor="end" fill="#000" >17%</text>
<text x="763.30" y="669.95" font-size="25.6" font-weight="bold" text-anchor="start" fill="#000" >ACE</text>
<rect x="895.70" y="649.85" width="97.88" height="21.20" fill="#1f78b4" />
<rect x="108.00" y="677.60" width="23.20" height="19.20" fill="#cccccc" />
<rect x="134.75" y="677.60" width="23.20" height="19.20" fill="#cccccc" />
<rect x="161.50" y="677.60" width="23.20" height="19.20" fill="#cccccc" />
<rect x="188.25" y="677.60" width="23.20" height="19.20" fill="#cccccc" />
<rect x="215.00" y="677.60" width="23.20" height="19.20" fill="#cccccc" />
<rect x="241.75" y="677.60" width="23.20" height="19.20" fill="#cccccc" />
<rect x="268.50" y="677.60" width="23.20" height="19.20" fill="#1f78b4" />
<rect x="295.25" y="677.60" width="23.20" height="19.20" fill="#1f78b4" />
<rect x="322.00" y="677.60" width="23.20" height="19.20" fill="#cccccc" />
<rect x="348.75" y="677.60" width="23.20" height="19.20" fill="#cccccc" />
<rect x="375.50" y="677.60" width="23.20" height="19.20" fill="#cccccc" />
<rect x="402.25" y="677.60" width="23.20" height="19.20" fill="#cccccc" />
<rect x="429.00" y="677.60" width="23.20" height="19.20" fill="#cccccc" />
<rect x="455.75" y="677.60" width="23.20" height="19.20" fill="#cccccc" />
<rect x="482.50" y="677.60" width="23.20" height="19.20" fill="#cccccc" />
<rect x="509.25" y="677.60" width="23.20" height="19.20" fill="#cccccc" />
<rect x="536.00" y="677.60" width="23.20" height="19.20" fill="#cccccc" />
<rect x="562.75" y="677.60" width="23.20" height="19.20" fill="#cccccc" />
<rect x="589.50" y="677.60" width="23.20" height="19.20" fill="#cccccc" />
<rect x="616.25" y="677.60" width="23.20" height="19.20" fill="#cccccc" />
<rect x="643.00" y="677.60" width="23.20" height="19.20" fill="#1f78b4" />
<rect x="669.75" y="677.60" width="23.20" height="19.20" fill="#1f78b4" />
<rect x="696.50" y="677.60" width="23.20" height="19.20" fill="#cccccc" />
<rect x="723.25" y="677.60" width="23.20" height="19.20" fill="#cccccc" />
<text x="103.20" y="696.00" font-size="25.2" font-weight="bold" text-anchor="end" fill="#000" >17%</text>
<text x="763.30" y="697.10" font-size="25.6" font-weight="bold" text-anchor="start" fill="#000" >ATP13A2</text>
<rect x="895.70" y="677.00" width="97.88" height="21.20" fill="#1f78b4" />
<rect x="108.00" y="704.75" width="23.20" height="19.20" fill="#cccccc" />
<rect x="134.75" y="704.75" width="23.20" height="19.20" fill="#1f78b4" />
<rect x="161.50" y="704.75" width="23.20" height="19.20" fill="#1f78b4" />
<rect x="188.25" y="704.75" width="23.20" height="19.20" fill="#cccccc" />
<rect x="215.00" y="704.75" width="23.20" height="19.20" fill="#cccccc" />
<rect x="241.75" y="704.75" width="23.20" height="19.20" fill="#cccccc" />
<rect x="268.50" y="704.75" width="23.20" height="19.20" fill="#cccccc" />
<rect x="295.25" y="704.75" width="23.20" height="19.20" fill="#1f78b4" />
<rect x="322.00" y="704.75" width="23.20" height="19.20" fill="#cccccc" />
<rect x="348.75" y="704.75" width="23.20" height="19.20" fill="#cccccc" />
<rect x="375.50" y="704.75" width="23.20" height="19.20" fill="#cccccc" />
<rect x="402.25" y="704.75" width="23.20" height="19.20" fill="#cccccc" />
<rect x="429.00" y="704.75" width="23.20" height="19.20" fill="#cccccc" />
<rect x="455.75" y="704.75" width="23.20" height="19.20" fill="#cccccc" />
<rect x="482.50" y="704.75" width="23.20" height="19.20" fill="#cccccc" />
<rect x="509.25" y="704.75" width="23.20" height="19.20" fill="#cccccc" />
<rect x="536.00" y="704.75" width="23.20" height="19.20" fill="#cccccc" />
<rect x="562.75" y="704.75" width="23.20" height="19.20" fill="#cccccc" />
<rect x="589.50" y="704.75" width="23.20" height="19.20" fill="#cccccc" />
<rect x="616.25" y="704.75" width="23.20" height="19.20" fill="#cccccc" />
<rect x="643.00" y="704.75" width="23.20" height="19.20" fill="#cccccc" />
<rect x="669.75" y="704.75" width="23.20" height="19.20" fill="#cccccc" />
<rect x="696.50" y="704.75" width="23.20" height="19.20" fill="#cccccc" />
<rect x="723.25" y="704.75" width="23.20" height="19.20" fill="#cccccc" />
<text x="103.20" y="723.15" font-size="25.2" font-weight="bold" text-anchor="end" fill="#000" >17%</text>
<text x="763.30" y="724.25" font-size="25.6" font-weight="bold" text-anchor="start" fill="#000" >CSMD1</text>
<rect x="895.70" y="704.15" width="73.41" height="21.20" fill="#1f78b4" />
<rect x="108.00" y="731.90" width="23.20" height="19.20" fill="#cccccc" />
<rect x="134.75" y="731.90" width="23.20" height="19.20" fill="#1f78b4" />
<rect x="161.50" y="731.90" width="23.20" height="19.20" fill="#cccccc" />
<rect x="188.25" y="731.90" width="23.20" height="19.20" fill="#cccccc" />
<rect x="215.00" y="731.90" width="23.20" height="19.20" fill="#cccccc" />
<rect x="241.75" y="731.90" width="23.20" height="19.20" fill="#cccccc" />
<rect x="268.50" y="731.90" width="23.20" height="19.20" fill="#cccccc" />
<rect x="295.25" y="731.90" width="23.20" height="19.20" fill="#1f78b4" />
<rect x="322.00" y="731.90" width="23.20" height="19.20" fill="#cccccc" />
<rect x="348.75" y="731.90" width="23.20" height="19.20" fill="#cccccc" />
<rect x="375.50" y="731.90" width="23.20" height="19.20" fill="#cccccc" />
<rect x="402.25" y="731.90" width="23.20" height="19.20" fill="#cccccc" />
<rect x="429.00" y="731.90" width="23.20" height="19.20" fill="#cccccc" />
<rect x="455.75" y="731.90" width="23.20" height="19.20" fill="#cccccc" />
<rect x="482.50" y="731.90" width="23.20" height="19.20" fill="#cccccc" />
<rect x="509.25" y="731.90" width="23.20" height="19.20" fill="#cccccc" />
<rect x="536.00" y="731.90" width="23.20" height="19.20" fill="#cccccc" />
<rect x="562.75" y="731.90" width="23.20" height="19.20" fill="#cccccc" />
<rect x="589.50" y="731.90" width="23.20" height="19.20" fill="#cccccc" />
<rect x="616.25" y="731.90" width="23.20" height="19.20" fill="#cccccc" />
<rect x="643.00" y="731.90" width="23.20" height="19.20" fill="#1f78b4" />
<rect x="669.75" y="731.90" width="23.20" height="19.20" fill="#1f78b4" />
<rect x="696.50" y="731.90" width="23.20" height="19.20" fill="#cccccc" />
<rect x="723.25" y="731.90" width="23.20" height="19.20" fill="#cccccc" />
<text x="103.20" y="750.30" font-size="25.2" font-weight="bold" text-anchor="end" fill="#000" >17%</text>
<text x="763.30" y="751.40" font-size="25.6" font-weight="bold" text-anchor="start" fill="#000" >FSIP2</text>
<rect x="895.70" y="731.30" width="97.88" height="21.20" fill="#1f78b4" />
<rect x="108.00" y="759.05" width="23.20" height="19.20" fill="#1f78b4" />
<rect x="134.75" y="759.05" width="23.20" height="19.20" fill="#cccccc" />
<rect x="161.50" y="759.05" width="23.20" height="19.20" fill="#cccccc" />
<rect x="188.25" y="759.05" width="23.20" height="19.20" fill="#cccccc" />
<rect x="215.00" y="759.05" width="23.20" height="19.20" fill="#cccccc" />
<rect x="241.75" y="759.05" width="23.20" height="19.20" fill="#cccccc" />
<rect x="268.50" y="759.05" width="23.20" height="19.20" fill="#1f78b4" />
<rect x="295.25" y="759.05" width="23.20" height="19.20" fill="#cccccc" />
<rect x="322.00" y="759.05" width="23.20" height="19.20" fill="#cccccc" />
<rect x="348.75" y="759.05" width="23.20" height="19.20" fill="#cccccc" />
<rect x="375.50" y="759.05" width="23.20" height="19.20" fill="#cccccc" />
<rect x="402.25" y="759.05" width="23.20" height="19.20" fill="#cccccc" />
<rect x="429.00" y="759.05" width="23.20" height="19.20" fill="#1f78b4" />
<rect x="455.75" y="759.05" width="23.20" height="19.20" fill="#1f78b4" />
<rect x="482.50" y="759.05" width="23.20" height="19.20" fill="#cccccc" />
<rect x="509.25" y="759.05" width="23.20" height="19.20" fill="#cccccc" />
<rect x="536.00" y="759.05" width="23.20" height="19.20" fill="#cccccc" />
<rect x="562.75" y="759.05" width="23.20" height="19.20" fill="#cccccc" />
<rect x="589.50" y="759.05" width="23.20" height="19.20" fill="#cccccc" />
<rect x="616.25" y="759.05" width="23.20" height="19.20" fill="#cccccc" />
<rect x="643.00" y="759.05" width="23.20" height="19.20" fill="#cccccc" />
<rect x="669.75" y="759.05" width="23.20" height="19.20" fill="#cccccc" />
<rect x="696.50" y="759.05" width="23.20" height="19.20" fill="#cccccc" />
<rect x="723.25" y="759.05" width="23.20" height="19.20" fill="#cccccc" />
<text x="103.20" y="777.45" font-size="25.2" font-weight="bold" text-anchor="end" fill="#000" >17%</text>
<text x="763.30" y="778.55" font-size="25.6" font-weight="bold" text-anchor="start" fill="#000" >PCDH15</text>
<rect x="895.70" y="758.45" width="97.88" height="21.20" fill="#1f78b4" />
<text x="33.20" y="606.30" font-size="28" font-weight="bold" text-anchor="start" fill="#000" transform="rotate(-90 33.20 606.30)" >Frequence</text>
<text x="127.50" y="789.40" font-size="13.8" font-weight="bold" text-anchor="end" fill="#000" transform="rotate(-45 127.50 789.40)" >BM38_P</text>
<text x="154.19" y="789.40" font-size="13.8" font-weight="bold" text-anchor="end" fill="#000" transform="rotate(-45 154.19 789.40)" >BM38_M</text>
<text x="180.89" y="789.40" font-size="13.8" font-weight="bold" text-anchor="end" fill="#000" transform="rotate(-45 180.89 789.40)" >BM35_P</text>
<text x="207.59" y="789.40" font-size="13.8" font-weight="bold" text-anchor="end" fill="#000" transform="rotate(-45 207.59 789.40)" >BM35_M</text>
<text x="234.28" y="789.40" font-size="13.8" font-weight="bold" text-anchor="end" fill="#000" transform="rotate(-45 234.28 789.40)" >BM37_P</text>
<text x="260.98" y="789.40" font-size="13.8" font-weight="bold" text-anchor="end" fill="#000" transform="rotate(-45 260.98 789.40)" >BM37_M</text>
<text x="287.67" y="789.40" font-size="13.8" font-weight="bold" text-anchor="end" fill="#000" transform="rotate(-45 287.67 789.40)" >BM43_P</text>
<text x="314.37" y="789.40" font-size="13.8" font-weight="bold" text-anchor="end" fill="#000" transform="rotate(-45 314.37 789.40)" >BM43_M</text>
<text x="341.06" y="789.40" font-size="13.8" font-weight="bold" text-anchor="end" fill="#000" transform="rotate(-45 341.06 789.40)" >BM32_P</text>
<text x="367.75" y="789.40" font-size="13.8" font-weight="bold" text-anchor="end" fill="#000" transform="rotate(-45 367.75 789.40)" >BM32_M</text>
<text x="394.45" y="789.40" font-size="13.8" font-weight="bold" text-anchor="end" fill="#000" transform="rotate(-45 394.45 789.40)" >BM39_P</text>
<text x="421.14" y="789.40" font-size="13.8" font-weight="bold" text-anchor="end" fill="#000" transform="rotate(-45 421.14 789.40)" >BM39_M</text>
<text x="447.84" y="789.40" font-size="13.8" font-weight="bold" text-anchor="end" fill="#000" transform="rotate(-45 447.84 789.40)" >BM40_P</text>
<text x="474.54" y="789.40" font-size="13.8" font-weight="bold" text-anchor="end" fill="#000" transform="rotate(-45 474.54 789.40)" >BM40_M</text>
<text x="501.23" y="789.40" font-size="13.8" font-weight="bold" text-anchor="end" fill="#000" transform="rotate(-45 501.23 789.40)" >BM31_P</text>
<text x="527.92" y="789.40" font-size="13.8" font-weight="bold" text-anchor="end" fill="#000" transform="rotate(-45 527.92 789.40)" >BM31_M</text>
<text x="554.62" y="789.40" font-size="13.8" font-weight="bold" text-anchor="end" fill="#000" transform="rotate(-45 554.62 789.40)" >BM34_P</text>
<text x="581.32" y="789.40" font-size="13.8" font-weight="bold" text-anchor="end" fill="#000" transform="rotate(-45 581.32 789.40)" >BM34_M</text>
<text x="608.01" y="789.40" font-size="13.8" font-weight="bold" text-anchor="end" fill="#000" transform="rotate(-45 608.01 789.40)" >BM33_P</text>
<text x="634.71" y="789.40" font-size="13.8" font-weight="bold" text-anchor="end" fill="#000" transform="rotate(-45 634.71 789.40)" >BM33_M</text>
<text x="661.40" y="789.40" font-size="13.8" font-weight="bold" text-anchor="end" fill="#000" transform="rotate(-45 661.40 789.40)" >BM36_P</text>
<text x="688.10" y="789.40" font-size="13.8" font-weight="bold" text-anchor="end" fill="#000" transform="rotate(-45 688.10 789.40)" >BM36_M</text>
<text x="714.79" y="789.40" font-size="13.8" font-weight="bold" text-anchor="end" fill="#000" transform="rotate(-45 714.79 789.40)" >BM42_P</text>
<text x="741.49" y="789.40" font-size="13.8" font-weight="bold" text-anchor="end" fill="#000" transform="rotate(-45 741.49 789.40)" >BM42_M</text>
<rect x="763.50" y="69.10" width="17.40" height="15.60" fill="#a9d18e" />
<text x="799.00" y="85.00" font-size="23.2" font-weight="bold" text-anchor="start" fill="#000" >Female</text>
<rect x="763.50" y="90.80" width="17.40" height="15.60" fill="#385723" />
<text x="799.00" y="106.00" font-size="23.2" font-weight="bold" text-anchor="start" fill="#000" >Male</text>
<rect x="763.50" y="116.00" width="16.30" height="15.60" fill="#8faadc" />
<text x="799.00" y="132.30" font-size="23.2" font-weight="bold" text-anchor="start" fill="#000" >No</text>
<rect x="763.50" y="136.80" width="16.30" height="15.60" fill="#2f5597" />
<text x="799.00" y="153.60" font-size="23.2" font-weight="bold" text-anchor="start" fill="#000" >Yes</text>
<rect x="897.90" y="51.90" width="16.30" height="15.60" fill="#1f78b4" />
<text x="931.00" y="68.00" font-size="21.8" font-weight="bold" text-anchor="start" fill="#000" >Missense_Mutation</text>
<rect x="897.90" y="73.10" width="16.30" height="15.60" fill="#f07c1f" />
<text x="931.00" y="89.10" font-size="21.8" font-weight="bold" text-anchor="start" fill="#000" >In_Frame_Del</text>
<rect x="897.90" y="94.30" width="16.30" height="15.60" fill="#f9bd6d" />
<text x="931.00" y="110.20" font-size="21.8" font-weight="bold" text-anchor="start" fill="#000" >Splice_Site</text>
<rect x="897.90" y="115.50" width="16.30" height="15.60" fill="#b2df8a" />
<text x="931.00" y="131.30" font-size="21.8" font-weight="bold" text-anchor="start" fill="#000" >Nonsense_Mutation</text>
<rect x="897.90" y="136.70" width="16.30" height="15.60" fill="#33a02c" />
<text x="931.00" y="152.40" font-size="21.8" font-weight="bold" text-anchor="start" fill="#000" >Multi_Hit</text>
<text x="764.00" y="190.10" font-size="18.5" font-weight="bold" text-anchor="start" fill="#000" >Age (years)</text>
<text x="764.00" y="210.00" font-size="18.5" font-weight="bold" text-anchor="start" fill="#000" >Sex</text>
<text x="764.60" y="231.40" font-size="18.5" font-weight="bold" text-anchor="start" fill="#000" >Smoking</text>
<line x1="895.70" y1="223.90" x2="895.70" y2="239.20" stroke="#000" stroke-width="1.1" />
<text x="895.70" y="202.70" font-size="24" text-anchor="middle" fill="#000" >0</text>
<line x1="944.64" y1="223.90" x2="944.64" y2="239.20" stroke="#000" stroke-width="1.1" />
<text x="944.64" y="202.70" font-size="24" text-anchor="middle" fill="#000" >2</text>
<line x1="993.58" y1="223.90" x2="993.58" y2="239.20" stroke="#000" stroke-width="1.1" />
<text x="993.58" y="202.70" font-size="24" text-anchor="middle" fill="#000" >4</text>
<line x1="1042.52" y1="223.90" x2="1042.52" y2="239.20" stroke="#000" stroke-width="1.1" />
<text x="1042.52" y="202.70" font-size="24" text-anchor="middle" fill="#000" >6</text>
<line x1="1091.46" y1="223.90" x2="1091.46" y2="239.20" stroke="#000" stroke-width="1.1" />
<text x="1091.46" y="202.70" font-size="24" text-anchor="middle" fill="#000" >8</text>
<line x1="1140.40" y1="223.90" x2="1140.40" y2="239.20" stroke="#000" stroke-width="1.1" />
<text x="1140.40" y="202.70" font-size="24" text-anchor="middle" fill="#000" >10</text>
<line x1="895.20" y1="238.80" x2="1140.90" y2="238.80" stroke="#000" stroke-width="1.1" />
</g>
<g id="panel-b">
<text x="1189.30" y="129.90" font-size="42" font-weight="bold" text-anchor="start" fill="#000" >b</text>
<rect x="1282.10" y="164.90" width="608.10" height="607.50" fill="#fefdfc" />
<rect x="1282.10" y="392.71" width="608.10" height="25.31" fill="#fdf8f5" />
<rect x="1282.10" y="519.27" width="608.10" height="25.31" fill="#fdf8f5" />
<rect x="1282.10" y="544.59" width="608.10" height="25.31" fill="#fdf8f5" />
<rect x="1282.10" y="721.77" width="608.10" height="25.31" fill="#fdf8f5" />
<rect x="1282.10" y="747.09" width="608.10" height="25.31" fill="#fdf8f5" />
<rect x="1510.14" y="164.90" width="25.34" height="607.50" fill="#fdf8f5" opacity="0.7"/>
<rect x="1636.83" y="164.90" width="25.34" height="607.50" fill="#fdf8f5" opacity="0.7"/>
<rect x="1662.16" y="164.90" width="25.34" height="607.50" fill="#fdf8f5" opacity="0.7"/>
<rect x="1839.53" y="164.90" width="25.34" height="607.50" fill="#fdf8f5" opacity="0.7"/>
<rect x="1864.86" y="164.90" width="25.34" height="607.50" fill="#fdf8f5" opacity="0.7"/>
<rect x="1307.44" y="164.90" width="25.34" height="25.31" fill="#4b98c6" />
<rect x="1282.10" y="190.21" width="25.34" height="25.31" fill="#4b98c6" />
<rect x="1282.10" y="164.90" width="25.54" height="25.51" fill="#08306b" />
<rect x="1307.44" y="190.21" width="25.34" height="25.31" fill="#08306b" />
<rect x="1358.11" y="215.53" width="25.34" height="25.31" fill="#4393c3" />
<rect x="1332.77" y="240.84" width="25.34" height="25.31" fill="#4393c3" />
<rect x="1332.77" y="215.53" width="25.54" height="25.51" fill="#08306b" />
<rect x="1358.11" y="240.84" width="25.34" height="25.31" fill="#08306b" />
<rect x="1408.79" y="266.15" width="25.34" height="25.31" fill="#cbe2ee" />
<rect x="1383.45" y="291.46" width="25.34" height="25.31" fill="#cbe2ee" />
<rect x="1383.45" y="266.15" width="25.54" height="25.51" fill="#08306b" />
<rect x="1408.79" y="291.46" width="25.34" height="25.31" fill="#08306b" />
<rect x="1459.46" y="316.77" width="25.34" height="25.31" fill="#408ec1" />
<rect x="1434.12" y="342.09" width="25.34" height="25.31" fill="#408ec1" />
<rect x="1434.12" y="316.77" width="25.54" height="25.51" fill="#08306b" />
<rect x="1459.46" y="342.09" width="25.34" height="25.31" fill="#08306b" />
<rect x="1510.14" y="367.40" width="25.34" height="25.31" fill="#edf5f9" />
<rect x="1484.80" y="392.71" width="25.34" height="25.31" fill="#edf5f9" />
<rect x="1484.80" y="367.40" width="25.54" height="25.51" fill="#08306b" />
<rect x="1510.14" y="392.71" width="25.34" height="25.31" fill="#08306b" />
<rect x="1560.81" y="418.02" width="25.34" height="25.31" fill="#c4dfec" />
<rect x="1535.47" y="443.34" width="25.34" height="25.31" fill="#c4dfec" />
<rect x="1535.47" y="418.02" width="25.54" height="25.51" fill="#08306b" />
<rect x="1560.81" y="443.34" width="25.34" height="25.31" fill="#08306b" />
<rect x="1611.49" y="468.65" width="25.34" height="25.31" fill="#408ec1" />
<rect x="1586.15" y="493.96" width="25.34" height="25.31" fill="#408ec1" />
<rect x="1586.15" y="468.65" width="25.54" height="25.51" fill="#08306b" />
<rect x="1611.49" y="493.96" width="25.34" height="25.31" fill="#08306b" />
<rect x="1636.83" y="519.27" width="25.54" height="25.51" fill="#08306b" />
<rect x="1662.16" y="544.59" width="25.34" height="25.31" fill="#08306b" />
<rect x="1687.50" y="569.90" width="25.54" height="25.51" fill="#08306b" />
<rect x="1712.84" y="595.21" width="25.34" height="25.31" fill="#08306b" />
<rect x="1763.51" y="620.52" width="25.34" height="25.31" fill="#d1e5f0" />
<rect x="1738.17" y="645.84" width="25.34" height="25.31" fill="#d1e5f0" />
<rect x="1738.17" y="620.52" width="25.54" height="25.51" fill="#08306b" />
<rect x="1763.51" y="645.84" width="25.34" height="25.31" fill="#08306b" />
<rect x="1814.19" y="671.15" width="25.34" height="25.31" fill="#9fcbe2" />
<rect x="1788.85" y="696.46" width="25.34" height="25.31" fill="#9fcbe2" />
<rect x="1788.85" y="671.15" width="25.54" height="25.51" fill="#08306b" />
<rect x="1814.19" y="696.46" width="25.34" height="25.31" fill="#08306b" />
<rect x="1864.86" y="721.77" width="25.34" height="25.31" fill="#d8e9f2" />
<rect x="1839.53" y="747.09" width="25.34" height="25.31" fill="#d8e9f2" />
<rect x="1839.53" y="721.77" width="25.54" height="25.51" fill="#08306b" />
<rect x="1864.86" y="747.09" width="25.34" height="25.31" fill="#08306b" />
<text x="1271.80" y="184.26" font-size="20.6" text-anchor="end" fill="#000" >BM31_M</text>
<text x="1301.27" y="159.20" font-size="20" text-anchor="start" fill="#000" transform="rotate(-45 1301.27 159.20)" >BM31_M</text>
<text x="1271.80" y="209.57" font-size="20.6" text-anchor="end" fill="#000" >BM31_P</text>
<text x="1326.61" y="159.20" font-size="20" text-anchor="start" fill="#000" transform="rotate(-45 1326.61 159.20)" >BM31_P</text>
<text x="1271.80" y="234.88" font-size="20.6" text-anchor="end" fill="#000" >BM32_M</text>
<text x="1351.94" y="159.20" font-size="20" text-anchor="start" fill="#000" transform="rotate(-45 1351.94 159.20)" >BM32_M</text>
<text x="1271.80" y="260.19" font-size="20.6" text-anchor="end" fill="#000" >BM32_P</text>
<text x="1377.28" y="159.20" font-size="20" text-anchor="start" fill="#000" transform="rotate(-45 1377.28 159.20)" >BM32_P</text>
<text x="1271.80" y="285.51" font-size="20.6" text-anchor="end" fill="#000" >BM33_M</text>
<text x="1402.62" y="159.20" font-size="20" text-anchor="start" fill="#000" transform="rotate(-45 1402.62 159.20)" >BM33_M</text>
<text x="1271.80" y="310.82" font-size="20.6" text-anchor="end" fill="#000" >BM33_P</text>
<text x="1427.96" y="159.20" font-size="20" text-anchor="start" fill="#000" transform="rotate(-45 1427.96 159.20)" >BM33_P</text>
<text x="1271.80" y="336.13" font-size="20.6" text-anchor="end" fill="#000" >BM34_M</text>
<text x="1453.29" y="159.20" font-size="20" text-anchor="start" fill="#000" transform="rotate(-45 1453.29 159.20)" >BM34_M</text>
<text x="1271.80" y="361.44" font-size="20.6" text-anchor="end" fill="#000" >BM34_P</text>
<text x="1478.63" y="159.20" font-size="20" text-anchor="start" fill="#000" transform="rotate(-45 1478.63 159.20)" >BM34_P</text>
<text x="1271.80" y="386.76" font-size="20.6" text-anchor="end" fill="#000" >BM35_M</text>
<text x="1503.97" y="159.20" font-size="20" text-anchor="start" fill="#000" transform="rotate(-45 1503.97 159.20)" >BM35_M</text>
<text x="1271.80" y="412.07" font-size="20.6" text-anchor="end" fill="#000" >BM35_P</text>
<text x="1529.31" y="159.20" font-size="20" text-anchor="start" fill="#000" transform="rotate(-45 1529.31 159.20)" >BM35_P</text>
<text x="1271.80" y="437.38" font-size="20.6" text-anchor="end" fill="#000" >BM36_M</text>
<text x="1554.64" y="159.20" font-size="20" text-anchor="start" fill="#000" transform="rotate(-45 1554.64 159.20)" >BM36_M</text>
<text x="1271.80" y="462.69" font-size="20.6" text-anchor="end" fill="#000" >BM36_P</text>
<text x="1579.98" y="159.20" font-size="20" text-anchor="start" fill="#000" transform="rotate(-45 1579.98 159.20)" >BM36_P</text>
<text x="1271.80" y="488.01" font-size="20.6" text-anchor="end" fill="#000" >BM37_M</text>
<text x="1605.32" y="159.20" font-size="20" text-anchor="start" fill="#000" transform="rotate(-45 1605.32 159.20)" >BM37_M</text>
<text x="1271.80" y="513.32" font-size="20.6" text-anchor="end" fill="#000" >BM37_P</text>
<text x="1630.66" y="159.20" font-size="20" text-anchor="start" fill="#000" transform="rotate(-45 1630.66 159.20)" >BM37_P</text>
<text x="1271.80" y="538.63" font-size="20.6" text-anchor="end" fill="#000" >BM38_M</text>
<text x="1655.99" y="159.20" font-size="20" text-anchor="start" fill="#000" transform="rotate(-45 1655.99 159.20)" >BM38_M</text>
<text x="1271.80" y="563.94" font-size="20.6" text-anchor="end" fill="#000" >BM38_P</text>
<text x="1681.33" y="159.20" font-size="20" text-anchor="start" fill="#000" transform="rotate(-45 1681.33 159.20)" >BM38_P</text>
<text x="1271.80" y="589.26" font-size="20.6" text-anchor="end" fill="#000" >BM39_M</text>
<text x="1706.67" y="159.20" font-size="20" text-anchor="start" fill="#000" transform="rotate(-45 1706.67 159.20)" >BM39_M</text>
<text x="1271.80" y="614.57" font-size="20.6" text-anchor="end" fill="#000" >BM39_P</text>
<text x="1732.01" y="159.20" font-size="20" text-anchor="start" fill="#000" transform="rotate(-45 1732.01 159.20)" >BM39_P</text>
<text x="1271.80" y="639.88" font-size="20.6" text-anchor="end" fill="#000" >BM40_M</text>
<text x="1757.34" y="159.20" font-size="20" text-anchor="start" fill="#000" transform="rotate(-45 1757.34 159.20)" >BM40_M</text>
<text x="1271.80" y="665.19" font-size="20.6" text-anchor="end" fill="#000" >BM40_P</text>
<text x="1782.68" y="159.20" font-size="20" text-anchor="start" fill="#000" transform="rotate(-45 1782.68 159.20)" >BM40_P</text>
<text x="1271.80" y="690.51" font-size="20.6" text-anchor="end" fill="#000" >BM42_M</text>
<text x="1808.02" y="159.20" font-size="20" text-anchor="start" fill="#000" transform="rotate(-45 1808.02 159.20)" >BM42_M</text>
<text x="1271.80" y="715.82" font-size="20.6" text-anchor="end" fill="#000" >BM42_P</text>
<text x="1833.36" y="159.20" font-size="20" text-anchor="start" fill="#000" transform="rotate(-45 1833.36 159.20)" >BM42_P</text>
<text x="1271.80" y="741.13" font-size="20.6" text-anchor="end" fill="#000" >BM43_M</text>
<text x="1858.69" y="159.20" font-size="20" text-anchor="start" fill="#000" transform="rotate(-45 1858.69 159.20)" >BM43_M</text>
<text x="1271.80" y="766.44" font-size="20.6" text-anchor="end" fill="#000" >BM43_P</text>
<text x="1884.03" y="159.20" font-size="20" text-anchor="start" fill="#000" transform="rotate(-45 1884.03 159.20)" >BM43_P</text>
<defs><linearGradient id="rdbu" x1="0" y1="0" x2="0" y2="1">
<stop offset="0.000" stop-color="#053061"/>
<stop offset="0.100" stop-color="#2166ac"/>
<stop offset="0.200" stop-color="#4393c3"/>
<stop offset="0.300" stop-color="#92c5de"/>
<stop offset="0.400" stop-color="#d1e5f0"/>
<stop offset="0.500" stop-color="#ffffff"/>
<stop offset="0.600" stop-color="#fddbc7"/>
<stop offset="0.700" stop-color="#f4a582"/>
<stop offset="0.800" stop-color="#d6604d"/>
<stop offset="0.900" stop-color="#b2182b"/>
<stop offset="1.000" stop-color="#67001f"/>
</linearGradient></defs>
<rect x="1902.30" y="165.30" width="23.30" height="607.10" fill="url(#rdbu)" />
<line x1="1925.60" y1="165.30" x2="1925.60" y2="772.40" stroke="#000" stroke-width="0.9" />
<line x1="1902.30" y1="165.30" x2="1902.30" y2="772.40" stroke="#444" stroke-width="0.5" />
<line x1="1925.60" y1="165.30" x2="1929.60" y2="165.30" stroke="#000" stroke-width="0.9" />
<text x="1938.60" y="171.10" font-size="17" font-weight="bold" text-anchor="start" fill="#000" >1.0</text>
<line x1="1925.60" y1="226.01" x2="1929.60" y2="226.01" stroke="#000" stroke-width="0.9" />
<text x="1938.60" y="231.81" font-size="17" font-weight="bold" text-anchor="start" fill="#000" >0.8</text>
<line x1="1925.60" y1="286.72" x2="1929.60" y2="286.72" stroke="#000" stroke-width="0.9" />
<text x="1938.60" y="292.52" font-size="17" font-weight="bold" text-anchor="start" fill="#000" >0.6</text>
<line x1="1925.60" y1="347.43" x2="1929.60" y2="347.43" stroke="#000" stroke-width="0.9" />
<text x="1938.60" y="353.23" font-size="17" font-weight="bold" text-anchor="start" fill="#000" >0.4</text>
<line x1="1925.60" y1="408.14" x2="1929.60" y2="408.14" stroke="#000" stroke-width="0.9" />
<text x="1938.60" y="413.94" font-size="17" font-weight="bold" text-anchor="start" fill="#000" >0.2</text>
<line x1="1925.60" y1="468.85" x2="1929.60" y2="468.85" stroke="#000" stroke-width="0.9" />
<text x="1938.60" y="474.65" font-size="17" font-weight="bold" text-anchor="start" fill="#000" >0,0</text>
<line x1="1925.60" y1="529.56" x2="1929.60" y2="529.56" stroke="#000" stroke-width="0.9" />
<text x="1938.60" y="535.36" font-size="17" font-weight="bold" text-anchor="start" fill="#000" >-0.2</text>
<line x1="1925.60" y1="590.27" x2="1929.60" y2="590.27" stroke="#000" stroke-width="0.9" />
<text x="1938.60" y="596.07" font-size="17" font-weight="bold" text-anchor="start" fill="#000" >-0.4</text>
<line x1="1925.60" y1="650.98" x2="1929.60" y2="650.98" stroke="#000" stroke-width="0.9" />
<text x="1938.60" y="656.78" font-size="17" font-weight="bold" text-anchor="start" fill="#000" >-0.6</text>
<line x1="1925.60" y1="711.69" x2="1929.60" y2="711.69" stroke="#000" stroke-width="0.9" />
<text x="1938.60" y="717.49" font-size="17" font-weight="bold" text-anchor="start" fill="#000" >-0.8</text>
<line x1="1925.60" y1="772.40" x2="1929.60" y2="772.40" stroke="#000" stroke-width="0.9" />
<text x="1938.60" y="778.20" font-size="17" font-weight="bold" text-anchor="start" fill="#000" >-1.0</text>
</g>
<g id="panel-c">
<text x="4.50" y="870.60" font-size="41" font-weight="bold" text-anchor="start" fill="#000" >c</text>
<rect x="116.00" y="862.20" width="15.20" height="15.30" fill="#ed7d31" />
<text x="138.30" y="877.00" font-size="18.6" font-weight="bold" text-anchor="start" fill="#000" >Private mutations</text>
<rect x="305.30" y="862.20" width="15.70" height="15.30" fill="#4472c4" />
<text x="328.70" y="877.00" font-size="18.6" font-weight="bold" text-anchor="start" fill="#000" >Shared mutations</text>
<rect x="113.50" y="884.60" width="641.80" height="449.90" fill="#ed7d31" />
<text x="145.50" y="1349.10" font-size="21.2" font-weight="bold" text-anchor="end" fill="#000" transform="rotate(-45 145.50 1349.10)" >BM38</text>
<line x1="166.98" y1="884.60" x2="166.98" y2="1334.50" stroke="#ffffff" stroke-width="1.2" opacity="0.8"/>
<text x="199.50" y="1349.10" font-size="21.2" font-weight="bold" text-anchor="end" fill="#000" transform="rotate(-45 199.50 1349.10)" >BM39</text>
<rect x="220.47" y="1325.50" width="53.48" height="9.00" fill="#4472c4" />
<line x1="220.47" y1="1325.50" x2="273.95" y2="1325.50" stroke="#f6d9c4" stroke-width="0.8" />
<line x1="220.47" y1="884.60" x2="220.47" y2="1334.50" stroke="#ffffff" stroke-width="1.2" opacity="0.8"/>
<text x="253.50" y="1349.10" font-size="21.2" font-weight="bold" text-anchor="end" fill="#000" transform="rotate(-45 253.50 1349.10)" >BM35</text>
<rect x="273.95" y="1311.11" width="53.48" height="23.39" fill="#4472c4" />
<line x1="273.95" y1="1311.11" x2="327.43" y2="1311.11" stroke="#f6d9c4" stroke-width="0.8" />
<line x1="273.95" y1="884.60" x2="273.95" y2="1334.50" stroke="#ffffff" stroke-width="1.2" opacity="0.8"/>
<text x="307.50" y="1349.10" font-size="21.2" font-weight="bold" text-anchor="end" fill="#000" transform="rotate(-45 307.50 1349.10)" >BM33</text>
<rect x="327.43" y="1304.81" width="53.48" height="29.69" fill="#4472c4" />
<line x1="327.43" y1="1304.81" x2="380.92" y2="1304.81" stroke="#f6d9c4" stroke-width="0.8" />
<line x1="327.43" y1="884.60" x2="327.43" y2="1334.50" stroke="#ffffff" stroke-width="1.2" opacity="0.8"/>
<text x="361.50" y="1349.10" font-size="21.2" font-weight="bold" text-anchor="end" fill="#000" transform="rotate(-45 361.50 1349.10)" >BM36</text>
<rect x="380.92" y="1301.21" width="53.48" height="33.29" fill="#4472c4" />
<line x1="380.92" y1="1301.21" x2="434.40" y2="1301.21" stroke="#f6d9c4" stroke-width="0.8" />
<line x1="380.92" y1="884.60" x2="380.92" y2="1334.50" stroke="#ffffff" stroke-width="1.2" opacity="0.8"/>
<text x="415.50" y="1349.10" font-size="21.2" font-weight="bold" text-anchor="end" fill="#000" transform="rotate(-45 415.50 1349.10)" >BM40</text>
<rect x="434.40" y="1293.78" width="53.48" height="40.72" fill="#4472c4" />
<line x1="434.40" y1="1293.78" x2="487.88" y2="1293.78" stroke="#f6d9c4" stroke-width="0.8" />
<line x1="434.40" y1="884.60" x2="434.40" y2="1334.50" stroke="#ffffff" stroke-width="1.2" opacity="0.8"/>
<text x="469.50" y="1349.10" font-size="21.2" font-weight="bold" text-anchor="end" fill="#000" transform="rotate(-45 469.50 1349.10)" >BM43</text>
<rect x="487.88" y="1289.29" width="53.48" height="45.21" fill="#4472c4" />
<line x1="487.88" y1="1289.29" x2="541.37" y2="1289.29" stroke="#f6d9c4" stroke-width="0.8" />
<line x1="487.88" y1="884.60" x2="487.88" y2="1334.50" stroke="#ffffff" stroke-width="1.2" opacity="0.8"/>
<text x="523.50" y="1349.10" font-size="21.2" font-weight="bold" text-anchor="end" fill="#000" transform="rotate(-45 523.50 1349.10)" >BM42</text>
<rect x="541.37" y="1276.69" width="53.48" height="57.81" fill="#4472c4" />
<line x1="541.37" y1="1276.69" x2="594.85" y2="1276.69" stroke="#f6d9c4" stroke-width="0.8" />
<line x1="541.37" y1="884.60" x2="541.37" y2="1334.50" stroke="#ffffff" stroke-width="1.2" opacity="0.8"/>
<text x="577.50" y="1349.10" font-size="21.2" font-weight="bold" text-anchor="end" fill="#000" transform="rotate(-45 577.50 1349.10)" >BM31</text>
<rect x="594.85" y="1275.56" width="53.48" height="58.94" fill="#4472c4" />
<line x1="594.85" y1="1275.56" x2="648.33" y2="1275.56" stroke="#f6d9c4" stroke-width="0.8" />
<line x1="594.85" y1="884.60" x2="594.85" y2="1334.50" stroke="#ffffff" stroke-width="1.2" opacity="0.8"/>
<text x="631.50" y="1349.10" font-size="21.2" font-weight="bold" text-anchor="end" fill="#000" transform="rotate(-45 631.50 1349.10)" >BM37</text>
<rect x="648.33" y="1257.79" width="53.48" height="76.71" fill="#4472c4" />
<line x1="648.33" y1="1257.79" x2="701.82" y2="1257.79" stroke="#f6d9c4" stroke-width="0.8" />
<line x1="648.33" y1="884.60" x2="648.33" y2="1334.50" stroke="#ffffff" stroke-width="1.2" opacity="0.8"/>
<text x="685.50" y="1349.10" font-size="21.2" font-weight="bold" text-anchor="end" fill="#000" transform="rotate(-45 685.50 1349.10)" >BM32</text>
<rect x="701.82" y="1196.83" width="53.48" height="137.67" fill="#4472c4" />
<line x1="701.82" y1="1196.83" x2="755.30" y2="1196.83" stroke="#f6d9c4" stroke-width="0.8" />
<line x1="701.82" y1="884.60" x2="701.82" y2="1334.50" stroke="#ffffff" stroke-width="1.2" opacity="0.8"/>
<text x="739.50" y="1349.10" font-size="21.2" font-weight="bold" text-anchor="end" fill="#000" transform="rotate(-45 739.50 1349.10)" >BM34</text>
<line x1="111.70" y1="883.40" x2="111.70" y2="1335.70" stroke="#000" stroke-width="2.5" />
<line x1="105.30" y1="1334.60" x2="755.60" y2="1334.60" stroke="#000" stroke-width="2.4" />
<line x1="105.30" y1="1334.50" x2="111.70" y2="1334.50" stroke="#000" stroke-width="2.2" />
<text x="92.60" y="1341.60" font-size="20.8" text-anchor="end" fill="#000" >0%</text>
<line x1="105.30" y1="1289.51" x2="111.70" y2="1289.51" stroke="#000" stroke-width="2.2" />
<text x="92.60" y="1296.61" font-size="20.8" text-anchor="end" fill="#000" >10%</text>
<line x1="105.30" y1="1244.52" x2="111.70" y2="1244.52" stroke="#000" stroke-width="2.2" />
<text x="92.60" y="1251.62" font-size="20.8" text-anchor="end" fill="#000" >20%</text>
<line x1="105.30" y1="1199.53" x2="111.70" y2="1199.53" stroke="#000" stroke-width="2.2" />
<text x="92.60" y="1206.63" font-size="20.8" text-anchor="end" fill="#000" >30%</text>
<line x1="105.30" y1="1154.54" x2="111.70" y2="1154.54" stroke="#000" stroke-width="2.2" />
<text x="92.60" y="1161.64" font-size="20.8" text-anchor="end" fill="#000" >40%</text>
<line x1="105.30" y1="1109.55" x2="111.70" y2="1109.55" stroke="#000" stroke-width="2.2" />
<text x="92.60" y="1116.65" font-size="20.8" text-anchor="end" fill="#000" >50%</text>
<line x1="105.30" y1="1064.56" x2="111.70" y2="1064.56" stroke="#000" stroke-width="2.2" />
<text x="92.60" y="1071.66" font-size="20.8" text-anchor="end" fill="#000" >60%</text>
<line x1="105.30" y1="1019.57" x2="111.70" y2="1019.57" stroke="#000" stroke-width="2.2" />
<text x="92.60" y="1026.67" font-size="20.8" text-anchor="end" fill="#000" >70%</text>
<line x1="105.30" y1="974.58" x2="111.70" y2="974.58" stroke="#000" stroke-width="2.2" />
<text x="92.60" y="981.68" font-size="20.8" text-anchor="end" fill="#000" >80%</text>
<line x1="105.30" y1="929.59" x2="111.70" y2="929.59" stroke="#000" stroke-width="2.2" />
<text x="92.60" y="936.69" font-size="20.8" text-anchor="end" fill="#000" >90%</text>
<line x1="105.30" y1="884.60" x2="111.70" y2="884.60" stroke="#000" stroke-width="2.2" />
<text x="92.60" y="891.70" font-size="20.8" text-anchor="end" fill="#000" >100%</text>
<text x="28.70" y="1207.50" font-size="28" font-weight="bold" text-anchor="start" fill="#000" transform="rotate(-90 28.70 1207.50)" >Percentage (%)</text>
</g>
<g id="panel-d">
<text x="808.90" y="886.00" font-size="42" font-weight="bold" text-anchor="start" fill="#000" >d</text>
<text x="907.00" y="884.60" font-size="23.3" text-anchor="start" fill="#000" >Gene number</text>
<rect x="1053.80" y="855.50" width="44.40" height="43.50" fill="#f2f2f2" />
<circle cx="1076.3" cy="877.7" r="9.0" fill="#000"/>
<text x="1074.80" y="851.00" font-size="23" text-anchor="middle" fill="#000" >40</text>
<rect x="1101.30" y="855.50" width="44.40" height="43.50" fill="#f2f2f2" />
<circle cx="1123.5" cy="877.7" r="13.0" fill="#000"/>
<text x="1121.00" y="851.00" font-size="23" text-anchor="middle" fill="#000" >80</text>
<rect x="1148.50" y="855.50" width="44.40" height="43.50" fill="#f2f2f2" />
<circle cx="1170.4" cy="877.7" r="15.8" fill="#000"/>
<text x="1167.00" y="851.00" font-size="23" text-anchor="middle" fill="#000" >120</text>
<rect x="1195.40" y="855.50" width="44.40" height="43.50" fill="#f2f2f2" />
<circle cx="1218.0" cy="877.7" r="17.8" fill="#000"/>
<text x="1218.90" y="851.00" font-size="23" text-anchor="middle" fill="#000" >160</text>
<text x="1417.00" y="883.20" font-size="23.2" text-anchor="start" fill="#000" ><tspan font-style="italic">q</tspan> value</text>
<defs><linearGradient id="qv" x1="0" y1="0" x2="1" y2="0"><stop offset="0.0" stop-color="#ff0000"/><stop offset="0.1" stop-color="#f6002a"/><stop offset="0.2" stop-color="#ed0044"/><stop offset="0.3" stop-color="#e3005b"/><stop offset="0.4" stop-color="#d70072"/><stop offset="0.5" stop-color="#ca0088"/><stop offset="0.6" stop-color="#ba009f"/><stop offset="0.7" stop-color="#a600b7"/><stop offset="0.8" stop-color="#8d00ce"/><stop offset="0.9" stop-color="#6800e7"/><stop offset="1.0" stop-color="#0000ff"/></linearGradient></defs>
<rect x="1497.90" y="853.40" width="261.40" height="41.70" fill="url(#qv)" />
<line x1="1531.40" y1="853.40" x2="1531.40" y2="862.40" stroke="#fff" stroke-width="1.1" />
<line x1="1531.40" y1="887.50" x2="1531.40" y2="895.10" stroke="#fff" stroke-width="1.1" />
<text x="1532.40" y="848.30" font-size="22" text-anchor="start" fill="#000" transform="rotate(-45 1532.40 848.30)" >5e-06</text>
<line x1="1575.60" y1="853.40" x2="1575.60" y2="862.40" stroke="#fff" stroke-width="1.1" />
<line x1="1575.60" y1="887.50" x2="1575.60" y2="895.10" stroke="#fff" stroke-width="1.1" />
<text x="1576.60" y="848.30" font-size="22" text-anchor="start" fill="#000" transform="rotate(-45 1576.60 848.30)" >4e-06</text>
<line x1="1620.40" y1="853.40" x2="1620.40" y2="862.40" stroke="#fff" stroke-width="1.1" />
<line x1="1620.40" y1="887.50" x2="1620.40" y2="895.10" stroke="#fff" stroke-width="1.1" />
<text x="1621.40" y="848.30" font-size="22" text-anchor="start" fill="#000" transform="rotate(-45 1621.40 848.30)" >3e-06</text>
<line x1="1663.90" y1="853.40" x2="1663.90" y2="862.40" stroke="#fff" stroke-width="1.1" />
<line x1="1663.90" y1="887.50" x2="1663.90" y2="895.10" stroke="#fff" stroke-width="1.1" />
<text x="1664.90" y="848.30" font-size="22" text-anchor="start" fill="#000" transform="rotate(-45 1664.90 848.30)" >2e-06</text>
<line x1="1707.50" y1="853.40" x2="1707.50" y2="862.40" stroke="#fff" stroke-width="1.1" />
<line x1="1707.50" y1="887.50" x2="1707.50" y2="895.10" stroke="#fff" stroke-width="1.1" />
<text x="1708.50" y="848.30" font-size="22" text-anchor="start" fill="#000" transform="rotate(-45 1708.50 848.30)" >1e-06</text>
<rect x="904.20" y="911.20" width="1064.30" height="234.30" fill="#ebebeb" />
<line x1="927.40" y1="911.20" x2="927.40" y2="1145.50" stroke="#fff" stroke-width="2.7" />
<line x1="968.07" y1="911.20" x2="968.07" y2="1145.50" stroke="#fff" stroke-width="2.7" />
<line x1="1008.74" y1="911.20" x2="1008.74" y2="1145.50" stroke="#fff" stroke-width="2.7" />
<line x1="1049.41" y1="911.20" x2="1049.41" y2="1145.50" stroke="#fff" stroke-width="2.7" />
<line x1="1090.08" y1="911.20" x2="1090.08" y2="1145.50" stroke="#fff" stroke-width="2.7" />
<line x1="1130.75" y1="911.20" x2="1130.75" y2="1145.50" stroke="#fff" stroke-width="2.7" />
<line x1="1171.42" y1="911.20" x2="1171.42" y2="1145.50" stroke="#fff" stroke-width="2.7" />
<line x1="1212.09" y1="911.20" x2="1212.09" y2="1145.50" stroke="#fff" stroke-width="2.7" />
<line x1="1252.76" y1="911.20" x2="1252.76" y2="1145.50" stroke="#fff" stroke-width="2.7" />
<line x1="1293.43" y1="911.20" x2="1293.43" y2="1145.50" stroke="#fff" stroke-width="2.7" />
<line x1="1334.10" y1="911.20" x2="1334.10" y2="1145.50" stroke="#fff" stroke-width="2.7" />
<line x1="1374.77" y1="911.20" x2="1374.77" y2="1145.50" stroke="#fff" stroke-width="2.7" />
<line x1="1415.44" y1="911.20" x2="1415.44" y2="1145.50" stroke="#fff" stroke-width="2.7" />
<line x1="1456.11" y1="911.20" x2="1456.11" y2="1145.50" stroke="#fff" stroke-width="2.7" />
<line x1="1496.78" y1="911.20" x2="1496.78" y2="1145.50" stroke="#fff" stroke-width="2.7" />
<line x1="1537.45" y1="911.20" x2="1537.45" y2="1145.50" stroke="#fff" stroke-width="2.7" />
<line x1="1578.12" y1="911.20" x2="1578.12" y2="1145.50" stroke="#fff" stroke-width="2.7" />
<line x1="1618.79" y1="911.20" x2="1618.79" y2="1145.50" stroke="#fff" stroke-width="2.7" />
<line x1="1659.46" y1="911.20" x2="1659.46" y2="1145.50" stroke="#fff" stroke-width="2.7" />
<line x1="1700.13" y1="911.20" x2="1700.13" y2="1145.50" stroke="#fff" stroke-width="2.7" />
<line x1="1740.80" y1="911.20" x2="1740.80" y2="1145.50" stroke="#fff" stroke-width="2.7" />
<line x1="1781.47" y1="911.20" x2="1781.47" y2="1145.50" stroke="#fff" stroke-width="2.7" />
<line x1="1822.14" y1="911.20" x2="1822.14" y2="1145.50" stroke="#fff" stroke-width="2.7" />
<line x1="1862.81" y1="911.20" x2="1862.81" y2="1145.50" stroke="#fff" stroke-width="2.7" />
<line x1="1903.48" y1="911.20" x2="1903.48" y2="1145.50" stroke="#fff" stroke-width="2.7" />
<line x1="1944.15" y1="911.20" x2="1944.15" y2="1145.50" stroke="#fff" stroke-width="2.7" />
<line x1="904.20" y1="974.30" x2="1968.50" y2="974.30" stroke="#fff" stroke-width="2.7" />
<line x1="904.20" y1="1083.00" x2="1968.50" y2="1083.00" stroke="#fff" stroke-width="2.7" />
<text x="890.00" y="983.40" font-size="27.8" font-weight="bold" text-anchor="end" fill="#000" >BM_M</text>
<text x="889.20" y="1091.50" font-size="27.8" font-weight="bold" text-anchor="end" fill="#000" >BM_P</text>
<line x1="893.60" y1="974.30" x2="902.70" y2="974.30" stroke="#000" stroke-width="2.0" />
<line x1="893.60" y1="1083.00" x2="902.70" y2="1083.00" stroke="#000" stroke-width="2.0" />
<circle cx="927.40" cy="974.3" r="6.7" fill="#3a1be6"/>
<circle cx="1008.74" cy="974.3" r="12.5" fill="#0a04fb"/>
<circle cx="1090.08" cy="974.3" r="11.6" fill="#5a14e0"/>
<circle cx="1130.75" cy="974.3" r="12.5" fill="#1206f8"/>
<circle cx="1171.42" cy="974.3" r="8.5" fill="#6a10d8"/>
<circle cx="1252.76" cy="974.3" r="10.2" fill="#1206f8"/>
<circle cx="1293.43" cy="974.3" r="10.2" fill="#1a08f6"/>
<circle cx="1334.10" cy="974.3" r="13.1" fill="#0a04fb"/>
<circle cx="1374.77" cy="974.3" r="10.1" fill="#9010c0"/>
<circle cx="1456.11" cy="974.3" r="12.9" fill="#3a10f0"/>
<circle cx="1496.78" cy="974.3" r="21.8" fill="#0400fd"/>
<circle cx="1537.45" cy="974.3" r="12.9" fill="#2a08f4"/>
<circle cx="1578.12" cy="974.3" r="14.5" fill="#4a10e8"/>
<circle cx="1618.79" cy="974.3" r="15.5" fill="#1000fa"/>
<circle cx="1659.46" cy="974.3" r="10.0" fill="#3a10f0"/>
<circle cx="1700.13" cy="974.3" r="15.5" fill="#0a00fc"/>
<circle cx="1822.14" cy="974.3" r="12.8" fill="#1500f8"/>
<circle cx="1862.81" cy="974.3" r="12.6" fill="#2a08f4"/>
<circle cx="1903.48" cy="974.3" r="11.1" fill="#1000fa"/>
<circle cx="1944.15" cy="974.3" r="9.9" fill="#8a10c8"/>
<circle cx="927.40" cy="1083.0" r="4.3" fill="#c0105a"/>
<circle cx="968.07" cy="1083.0" r="7.2" fill="#e8103a"/>
<circle cx="1049.41" cy="1083.0" r="6.7" fill="#d01070"/>
<circle cx="1090.08" cy="1083.0" r="10.4" fill="#ff0000"/>
<circle cx="1130.75" cy="1083.0" r="11.7" fill="#3010f0"/>
<circle cx="1212.09" cy="1083.0" r="8.7" fill="#d01080"/>
<circle cx="1252.76" cy="1083.0" r="8.5" fill="#3a10f0"/>
<circle cx="1334.10" cy="1083.0" r="11.6" fill="#4a10e8"/>
<circle cx="1374.77" cy="1083.0" r="9.7" fill="#d0107a"/>
<circle cx="1415.44" cy="1083.0" r="8.8" fill="#f00020"/>
<circle cx="1456.11" cy="1083.0" r="11.6" fill="#9a10c0"/>
<circle cx="1496.78" cy="1083.0" r="20.3" fill="#0400fd"/>
<circle cx="1537.45" cy="1083.0" r="12.5" fill="#8a14d0"/>
<circle cx="1618.79" cy="1083.0" r="13.1" fill="#b0109a"/>
<circle cx="1659.46" cy="1083.0" r="8.5" fill="#f80010"/>
<circle cx="1700.13" cy="1083.0" r="12.9" fill="#2a08f4"/>
<circle cx="1740.80" cy="1083.0" r="9.3" fill="#d81070"/>
<circle cx="1781.47" cy="1083.0" r="8.5" fill="#d41070"/>
<circle cx="1822.14" cy="1083.0" r="11.0" fill="#e01050"/>
<circle cx="1903.48" cy="1083.0" r="9.6" fill="#e81048"/>
<text x="937.00" y="1162.30" font-size="23.5" text-anchor="end" fill="#000" transform="rotate(-45 937.00 1162.30)" >ABC transporters</text>
<text x="977.67" y="1162.30" font-size="23.5" text-anchor="end" fill="#000" transform="rotate(-45 977.67 1162.30)" >ARVC</text>
<text x="1018.34" y="1162.30" font-size="23.5" text-anchor="end" fill="#000" transform="rotate(-45 1018.34 1162.30)" >Axon guidance</text>
<text x="1059.01" y="1162.30" font-size="23.5" text-anchor="end" fill="#000" transform="rotate(-45 1059.01 1162.30)" >Bile secretion</text>
<text x="1099.68" y="1162.30" font-size="23.5" text-anchor="end" fill="#000" transform="rotate(-45 1099.68 1162.30)" >Calcium signaling pathway</text>
<text x="1140.35" y="1162.30" font-size="23.5" text-anchor="end" fill="#000" transform="rotate(-45 1140.35 1162.30)" >cAMP signaling pathway</text>
<text x="1181.02" y="1162.30" font-size="23.5" text-anchor="end" fill="#000" transform="rotate(-45 1181.02 1162.30)" >Central carbon metabolism</text>
<text x="1221.69" y="1162.30" font-size="23.5" text-anchor="end" fill="#000" transform="rotate(-45 1221.69 1162.30)" >Dilated cardiomyopathy</text>
<text x="1262.36" y="1162.30" font-size="23.5" text-anchor="end" fill="#000" transform="rotate(-45 1262.36 1162.30)" >ECM-receptor interaction</text>
<text x="1303.03" y="1162.30" font-size="23.5" text-anchor="end" fill="#000" transform="rotate(-45 1303.03 1162.30)" >Endocrine resistance</text>
<text x="1343.70" y="1162.30" font-size="23.5" text-anchor="end" fill="#000" transform="rotate(-45 1343.70 1162.30)" >Focal adhesion</text>
<text x="1384.37" y="1162.30" font-size="23.5" text-anchor="end" fill="#000" transform="rotate(-45 1384.37 1162.30)" >Glutamatergic synapse</text>
<text x="1425.04" y="1162.30" font-size="23.5" text-anchor="end" fill="#000" transform="rotate(-45 1425.04 1162.30)" >TRP channels</text>
<text x="1465.71" y="1162.30" font-size="23.5" text-anchor="end" fill="#000" transform="rotate(-45 1465.71 1162.30)" >MAPK signaling pathway</text>
<text x="1506.38" y="1162.30" font-size="23.5" text-anchor="end" fill="#000" transform="rotate(-45 1506.38 1162.30)" >Metabolic pathways</text>
<text x="1547.05" y="1162.30" font-size="23.5" text-anchor="end" fill="#000" transform="rotate(-45 1547.05 1162.30)" >Neuroactive ligand-receptor</text>
<text x="1587.72" y="1162.30" font-size="23.5" text-anchor="end" fill="#000" transform="rotate(-45 1587.72 1162.30)" >Olfactory transduction</text>
<text x="1628.39" y="1162.30" font-size="23.5" text-anchor="end" fill="#000" transform="rotate(-45 1628.39 1162.30)" >Pathways in cancer</text>
<text x="1669.06" y="1162.30" font-size="23.5" text-anchor="end" fill="#000" transform="rotate(-45 1669.06 1162.30)" >Phosphatidylinositol signaling</text>
<text x="1709.73" y="1162.30" font-size="23.5" text-anchor="end" fill="#000" transform="rotate(-45 1709.73 1162.30)" >PI3K-Akt siganling pathway</text>
<text x="1750.40" y="1162.30" font-size="23.5" text-anchor="end" fill="#000" transform="rotate(-45 1750.40 1162.30)" >Platelet activation</text>
<text x="1791.07" y="1162.30" font-size="23.5" text-anchor="end" fill="#000" transform="rotate(-45 1791.07 1162.30)" >Pg-mediated oocyte maturation</text>
<text x="1831.74" y="1162.30" font-size="23.5" text-anchor="end" fill="#000" transform="rotate(-45 1831.74 1162.30)" >Rap1 signaling pathway</text>
<text x="1872.41" y="1162.30" font-size="23.5" text-anchor="end" fill="#000" transform="rotate(-45 1872.41 1162.30)" >Regulation of actin cytoskeleton</text>
<text x="1913.08" y="1162.30" font-size="23.5" text-anchor="end" fill="#000" transform="rotate(-45 1913.08 1162.30)" >Thyroid hormone</text>
<text x="1953.75" y="1162.30" font-size="23.5" text-anchor="end" fill="#000" transform="rotate(-45 1953.75 1162.30)" >Tight junction</text>
</g>
</svg></body></html>
